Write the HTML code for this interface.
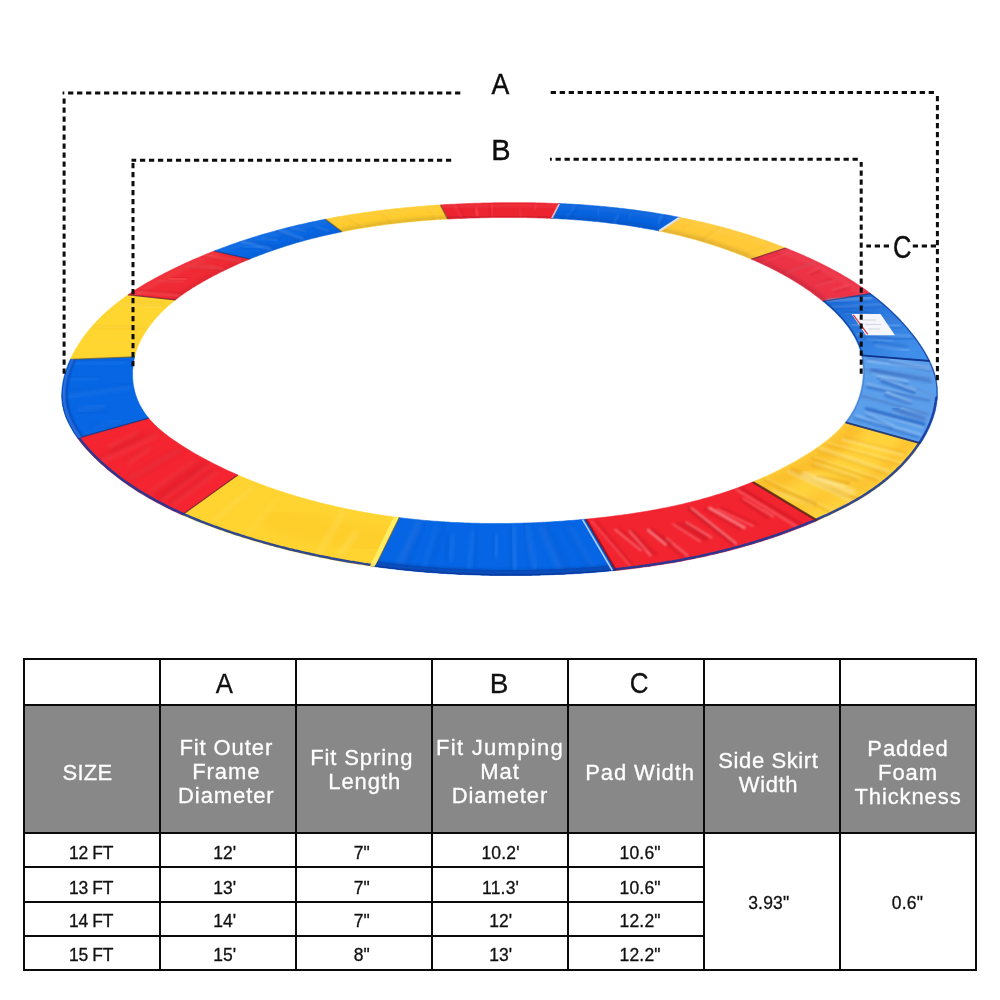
<!DOCTYPE html>
<html lang="en">
<head>
<meta charset="utf-8">
<title>Trampoline Pad Size Chart</title>
<style>
html,body{margin:0;padding:0;background:#fff;}
body{width:1000px;height:1000px;position:relative;overflow:hidden;font-family:"Liberation Sans",sans-serif;color:#111;}
.art{position:absolute;left:0;top:0;display:block;}
table.chart{position:absolute;left:23px;top:658px;width:954px;border-collapse:collapse;table-layout:fixed;}
table.chart td,table.chart th{border:2px solid #0a0a0a;padding:0;text-align:center;vertical-align:middle;font-weight:normal;white-space:nowrap;}
table.chart span{position:relative;display:inline-block;-webkit-text-stroke:0.3px currentColor;}
table.chart tr.lt th{height:44px;font-size:28px;line-height:30px;}
table.chart tr.hd th{height:126px;background:#888;color:#fff;font-size:22px;line-height:24px;letter-spacing:.9px;}
table.chart tr.r td{height:32px;font-size:17.5px;line-height:20px;}
table.chart tr.r1 td{height:33px;}
#h0{letter-spacing:.3px;}
#t1{transform:scaleX(.92);}
#t4{transform:scale(.93,1.04);transform-origin:center 24.7px;}
table.chart em{font-style:normal;position:relative;}
em.w{letter-spacing:1.3px;}
em.s{left:3px;}
#h5{letter-spacing:.6px;}
#d0_0,#d1_0,#d2_0,#d3_0{letter-spacing:-.35px;}
#d0_3,#d1_3,#d0_4,#d1_4,#d2_4,#d3_4,#d0_5,#d0_6{letter-spacing:.2px;}
</style>
</head>
<body>
<svg class="art" width="1000" height="640" viewBox="0 0 1000 640">
<defs>
<clipPath id="ringclip"><path clip-rule="evenodd" d="M480.0 203.2 L482.8 203.1 L485.6 203.0 L488.5 203.0 L491.3 202.9 L494.2 202.8 L497.0 202.8 L499.8 202.8 L502.7 202.7 L505.5 202.7 L508.3 202.7 L511.2 202.7 L514.0 202.7 L516.8 202.7 L519.7 202.7 L522.5 202.7 L525.4 202.7 L528.2 202.7 L531.0 202.8 L533.9 202.8 L536.7 202.9 L539.5 202.9 L542.4 203.0 L545.2 203.1 L548.0 203.2 L550.8 203.3 L553.7 203.4 L556.5 203.5 L559.3 203.6 L562.2 203.7 L565.0 203.8 L567.8 204.0 L570.6 204.1 L573.5 204.3 L576.3 204.5 L579.1 204.6 L581.9 204.8 L584.8 205.0 L587.6 205.2 L590.4 205.4 L593.2 205.7 L596.0 205.9 L598.8 206.1 L601.7 206.4 L604.5 206.6 L607.3 206.9 L610.1 207.2 L612.9 207.5 L615.7 207.8 L618.5 208.1 L621.3 208.4 L624.1 208.7 L626.9 209.1 L629.7 209.4 L632.5 209.8 L635.3 210.1 L638.1 210.5 L640.9 210.9 L643.7 211.3 L646.5 211.7 L649.3 212.1 L652.1 212.5 L654.9 213.0 L657.6 213.4 L660.4 213.9 L663.2 214.4 L666.0 214.8 L668.8 215.3 L671.5 215.8 L674.3 216.4 L677.1 216.9 L679.8 217.4 L682.6 218.0 L685.4 218.5 L688.1 219.1 L690.9 219.7 L693.6 220.3 L696.4 220.9 L699.1 221.5 L701.9 222.1 L704.6 222.8 L707.4 223.4 L710.1 224.1 L712.8 224.8 L715.6 225.5 L718.3 226.2 L721.0 226.9 L723.8 227.6 L726.5 228.4 L729.2 229.1 L731.9 229.9 L734.7 230.7 L737.4 231.5 L740.1 232.3 L742.8 233.1 L745.5 233.9 L748.2 234.8 L750.9 235.6 L753.6 236.5 L756.3 237.4 L759.0 238.3 L761.6 239.2 L764.3 240.1 L767.0 241.1 L769.7 242.0 L772.3 243.0 L775.0 244.0 L777.7 245.0 L780.3 246.0 L783.0 247.0 L785.7 248.0 L788.3 249.1 L790.9 250.2 L793.6 251.2 L796.2 252.3 L798.9 253.4 L801.5 254.6 L804.1 255.7 L806.7 256.9 L809.3 258.0 L811.9 259.2 L814.5 260.4 L817.1 261.7 L819.6 262.9 L822.2 264.2 L824.8 265.5 L827.3 266.8 L829.8 268.1 L832.3 269.4 L834.8 270.8 L837.3 272.1 L839.8 273.5 L842.3 274.9 L844.7 276.4 L847.2 277.8 L849.6 279.3 L852.0 280.8 L854.4 282.3 L856.8 283.9 L859.1 285.4 L861.4 287.0 L863.8 288.6 L866.1 290.2 L868.4 291.9 L870.6 293.6 L872.9 295.3 L875.1 297.0 L877.3 298.7 L879.5 300.5 L881.6 302.3 L883.8 304.1 L885.9 306.0 L888.0 307.8 L890.1 309.7 L892.1 311.7 L894.1 313.6 L896.1 315.6 L898.1 317.6 L900.1 319.6 L902.0 321.7 L903.9 323.7 L905.7 325.9 L907.6 328.0 L909.4 330.2 L911.2 332.4 L912.9 334.6 L914.7 336.8 L916.4 339.1 L918.0 341.4 L919.7 343.8 L921.3 346.2 L922.8 348.6 L924.3 351.0 L925.8 353.5 L927.2 355.9 L928.5 358.5 L929.8 361.0 L931.0 363.6 L932.1 366.2 L933.2 368.8 L934.1 371.4 L934.9 374.1 L935.7 376.8 L936.3 379.5 L936.8 382.2 L937.1 385.0 L937.4 387.8 L937.5 390.5 L937.6 393.3 L937.5 396.1 L937.3 398.8 L937.0 401.6 L936.6 404.3 L936.1 407.0 L935.6 409.7 L934.9 412.4 L934.1 415.1 L933.3 417.8 L932.3 420.4 L931.3 423.1 L930.2 425.7 L929.1 428.3 L927.8 430.8 L926.5 433.4 L925.1 435.9 L923.7 438.4 L922.2 440.9 L920.6 443.3 L919.0 445.7 L917.3 448.1 L915.6 450.4 L913.9 452.8 L912.1 455.0 L910.2 457.3 L908.3 459.5 L906.4 461.7 L904.5 463.8 L902.5 465.9 L900.5 467.9 L898.4 469.9 L896.4 471.9 L894.3 473.8 L892.2 475.7 L890.0 477.6 L887.9 479.4 L885.7 481.2 L883.5 483.0 L881.2 484.7 L879.0 486.4 L876.7 488.1 L874.4 489.7 L872.1 491.3 L869.7 492.9 L867.4 494.5 L865.0 496.0 L862.6 497.5 L860.2 499.0 L857.7 500.4 L855.3 501.8 L852.8 503.2 L850.4 504.6 L847.9 505.9 L845.4 507.2 L842.9 508.5 L840.4 509.8 L837.8 511.1 L835.3 512.3 L832.7 513.6 L830.2 514.8 L827.6 516.0 L825.0 517.1 L822.4 518.3 L819.9 519.4 L817.3 520.6 L814.7 521.7 L812.1 522.8 L809.4 523.8 L806.8 524.9 L804.2 526.0 L801.6 527.0 L799.0 528.1 L796.3 529.1 L793.7 530.1 L791.1 531.1 L788.4 532.1 L785.8 533.0 L783.1 534.0 L780.5 534.9 L777.8 535.9 L775.1 536.8 L772.5 537.7 L769.8 538.6 L767.1 539.4 L764.5 540.3 L761.8 541.2 L759.1 542.0 L756.4 542.8 L753.7 543.7 L751.0 544.5 L748.3 545.3 L745.6 546.0 L742.9 546.8 L740.2 547.6 L737.5 548.3 L734.8 549.0 L732.0 549.8 L729.3 550.5 L726.6 551.2 L723.9 551.9 L721.1 552.5 L718.4 553.2 L715.6 553.9 L712.9 554.5 L710.2 555.1 L707.4 555.8 L704.7 556.4 L701.9 557.0 L699.2 557.6 L696.4 558.1 L693.6 558.7 L690.9 559.3 L688.1 559.8 L685.3 560.3 L682.6 560.9 L679.8 561.4 L677.0 561.9 L674.2 562.4 L671.5 562.9 L668.7 563.3 L665.9 563.8 L663.1 564.2 L660.3 564.7 L657.5 565.1 L654.7 565.5 L651.9 565.9 L649.1 566.4 L646.3 566.7 L643.5 567.1 L640.7 567.5 L637.9 567.9 L635.1 568.2 L632.3 568.6 L629.5 568.9 L626.7 569.2 L623.9 569.6 L621.1 569.9 L618.2 570.2 L615.4 570.5 L612.6 570.7 L609.8 571.0 L607.0 571.3 L604.1 571.5 L601.3 571.8 L598.5 572.0 L595.7 572.3 L592.8 572.5 L590.0 572.7 L587.2 572.9 L584.3 573.1 L581.5 573.3 L578.7 573.5 L575.8 573.6 L573.0 573.8 L570.2 574.0 L567.3 574.1 L564.5 574.3 L561.7 574.4 L558.8 574.5 L556.0 574.6 L553.2 574.7 L550.3 574.8 L547.5 574.9 L544.6 575.0 L541.8 575.1 L539.0 575.2 L536.1 575.3 L533.3 575.3 L530.5 575.4 L527.6 575.4 L524.8 575.5 L521.9 575.5 L519.1 575.5 L516.3 575.5 L513.4 575.5 L510.6 575.5 L507.7 575.5 L504.9 575.5 L502.1 575.5 L499.2 575.5 L496.4 575.5 L493.5 575.4 L490.7 575.4 L487.9 575.3 L485.0 575.3 L482.2 575.2 L479.4 575.1 L476.5 575.0 L473.7 574.9 L470.9 574.8 L468.0 574.7 L465.2 574.6 L462.4 574.5 L459.5 574.4 L456.7 574.2 L453.9 574.1 L451.0 573.9 L448.2 573.8 L445.4 573.6 L442.5 573.4 L439.7 573.2 L436.9 573.0 L434.1 572.8 L431.2 572.6 L428.4 572.4 L425.6 572.2 L422.8 571.9 L420.0 571.7 L417.1 571.4 L414.3 571.2 L411.5 570.9 L408.7 570.6 L405.9 570.4 L403.1 570.1 L400.3 569.8 L397.4 569.5 L394.6 569.1 L391.8 568.8 L389.0 568.5 L386.2 568.1 L383.4 567.8 L380.6 567.4 L377.8 567.0 L375.0 566.7 L372.2 566.3 L369.4 565.9 L366.6 565.5 L363.8 565.1 L361.0 564.6 L358.3 564.2 L355.5 563.8 L352.7 563.3 L349.9 562.9 L347.1 562.4 L344.3 561.9 L341.6 561.4 L338.8 560.9 L336.0 560.4 L333.2 559.9 L330.5 559.4 L327.7 558.8 L324.9 558.3 L322.2 557.7 L319.4 557.2 L316.6 556.6 L313.9 556.0 L311.1 555.4 L308.4 554.8 L305.6 554.2 L302.9 553.6 L300.1 553.0 L297.4 552.3 L294.6 551.7 L291.9 551.0 L289.2 550.4 L286.4 549.7 L283.7 549.0 L281.0 548.3 L278.2 547.6 L275.5 546.9 L272.8 546.1 L270.1 545.4 L267.4 544.6 L264.6 543.9 L261.9 543.1 L259.2 542.3 L256.5 541.6 L253.8 540.8 L251.1 539.9 L248.4 539.1 L245.7 538.3 L243.0 537.4 L240.3 536.6 L237.7 535.7 L235.0 534.9 L232.3 534.0 L229.6 533.1 L226.9 532.2 L224.3 531.3 L221.6 530.3 L218.9 529.4 L216.3 528.4 L213.6 527.5 L211.0 526.5 L208.3 525.5 L205.7 524.5 L203.1 523.5 L200.4 522.5 L197.8 521.4 L195.2 520.4 L192.6 519.3 L190.0 518.2 L187.4 517.1 L184.8 516.0 L182.2 514.9 L179.6 513.7 L177.1 512.5 L174.5 511.4 L171.9 510.2 L169.4 508.9 L166.9 507.7 L164.4 506.4 L161.8 505.1 L159.3 503.8 L156.9 502.5 L154.4 501.2 L151.9 499.8 L149.4 498.4 L147.0 497.0 L144.6 495.6 L142.2 494.1 L139.7 492.7 L137.3 491.2 L135.0 489.7 L132.6 488.1 L130.2 486.5 L127.9 484.9 L125.6 483.3 L123.3 481.7 L121.0 480.0 L118.7 478.3 L116.4 476.6 L114.2 474.8 L111.9 473.0 L109.7 471.2 L107.5 469.4 L105.3 467.5 L103.2 465.6 L101.0 463.7 L98.9 461.8 L96.8 459.8 L94.7 457.8 L92.7 455.7 L90.6 453.6 L88.7 451.5 L86.7 449.4 L84.8 447.2 L82.9 445.0 L81.1 442.8 L79.4 440.5 L77.7 438.2 L76.0 435.8 L74.4 433.5 L72.9 431.1 L71.5 428.6 L70.1 426.1 L68.8 423.6 L67.6 421.1 L66.4 418.5 L65.4 415.9 L64.5 413.2 L63.7 410.6 L63.1 407.9 L62.5 405.2 L62.1 402.5 L61.9 399.8 L61.7 397.0 L61.7 394.3 L61.8 391.6 L62.0 388.8 L62.3 386.1 L62.7 383.4 L63.2 380.6 L63.8 377.9 L64.5 375.2 L65.3 372.5 L66.2 369.8 L67.1 367.2 L68.1 364.5 L69.2 361.9 L70.4 359.3 L71.6 356.7 L72.9 354.1 L74.3 351.6 L75.7 349.1 L77.2 346.7 L78.7 344.3 L80.2 341.9 L81.8 339.5 L83.4 337.2 L85.1 335.0 L86.8 332.7 L88.6 330.5 L90.3 328.4 L92.2 326.3 L94.0 324.2 L95.9 322.1 L97.9 320.1 L99.8 318.1 L101.8 316.1 L103.9 314.2 L105.9 312.3 L108.0 310.4 L110.2 308.6 L112.3 306.7 L114.5 305.0 L116.7 303.2 L118.9 301.5 L121.2 299.8 L123.5 298.1 L125.8 296.4 L128.1 294.8 L130.4 293.2 L132.8 291.6 L135.2 290.1 L137.6 288.5 L140.0 287.0 L142.5 285.6 L144.9 284.1 L147.4 282.6 L149.9 281.2 L152.4 279.8 L154.9 278.4 L157.4 277.1 L159.9 275.7 L162.5 274.4 L165.0 273.1 L167.6 271.8 L170.2 270.5 L172.7 269.2 L175.3 268.0 L177.9 266.8 L180.5 265.5 L183.1 264.3 L185.6 263.1 L188.2 262.0 L190.8 260.8 L193.4 259.6 L196.1 258.5 L198.7 257.4 L201.3 256.3 L203.9 255.2 L206.5 254.1 L209.2 253.1 L211.8 252.0 L214.4 251.0 L217.1 249.9 L219.7 248.9 L222.4 247.9 L225.0 247.0 L227.7 246.0 L230.3 245.0 L233.0 244.1 L235.7 243.2 L238.3 242.2 L241.0 241.3 L243.7 240.4 L246.4 239.6 L249.1 238.7 L251.8 237.8 L254.4 237.0 L257.1 236.2 L259.8 235.3 L262.5 234.5 L265.2 233.7 L268.0 233.0 L270.7 232.2 L273.4 231.4 L276.1 230.7 L278.8 230.0 L281.5 229.2 L284.3 228.5 L287.0 227.8 L289.7 227.1 L292.4 226.5 L295.2 225.8 L297.9 225.1 L300.7 224.5 L303.4 223.9 L306.2 223.3 L308.9 222.6 L311.7 222.0 L314.4 221.5 L317.2 220.9 L319.9 220.3 L322.7 219.8 L325.5 219.2 L328.2 218.7 L331.0 218.2 L333.8 217.6 L336.5 217.1 L339.3 216.6 L342.1 216.2 L344.9 215.7 L347.6 215.2 L350.4 214.8 L353.2 214.3 L356.0 213.9 L358.8 213.5 L361.6 213.1 L364.4 212.6 L367.2 212.2 L370.0 211.9 L372.8 211.5 L375.6 211.1 L378.4 210.8 L381.2 210.4 L384.0 210.1 L386.8 209.7 L389.6 209.4 L392.4 209.1 L395.2 208.8 L398.0 208.5 L400.8 208.2 L403.6 207.9 L406.5 207.6 L409.3 207.4 L412.1 207.1 L414.9 206.9 L417.7 206.6 L420.6 206.4 L423.4 206.2 L426.2 205.9 L429.0 205.7 L431.8 205.5 L434.7 205.3 L437.5 205.1 L440.3 205.0 L443.2 204.8 L446.0 204.6 L448.8 204.5 L451.6 204.3 L454.5 204.2 L457.3 204.0 L460.1 203.9 L463.0 203.8 L465.8 203.7 L468.6 203.5 L471.5 203.4 L474.3 203.3 L477.1 203.3Z M492.6 217.6 L495.0 217.6 L497.3 217.5 L499.7 217.5 L502.1 217.5 L504.4 217.5 L506.8 217.5 L509.2 217.5 L511.6 217.5 L513.9 217.5 L516.3 217.5 L518.7 217.5 L521.1 217.6 L523.4 217.6 L525.8 217.6 L528.2 217.7 L530.5 217.7 L532.9 217.8 L535.3 217.8 L537.6 217.9 L540.0 218.0 L542.4 218.0 L544.7 218.1 L547.1 218.2 L549.5 218.3 L551.8 218.4 L554.2 218.5 L556.5 218.6 L558.9 218.7 L561.3 218.9 L563.6 219.0 L566.0 219.1 L568.3 219.3 L570.7 219.4 L573.0 219.6 L575.4 219.8 L577.7 219.9 L580.1 220.1 L582.4 220.3 L584.8 220.5 L587.1 220.7 L589.5 220.9 L591.8 221.1 L594.2 221.4 L596.5 221.6 L598.9 221.8 L601.2 222.1 L603.5 222.3 L605.9 222.6 L608.2 222.9 L610.5 223.2 L612.9 223.4 L615.2 223.7 L617.5 224.0 L619.9 224.4 L622.2 224.7 L624.5 225.0 L626.8 225.3 L629.2 225.7 L631.5 226.0 L633.8 226.4 L636.1 226.8 L638.4 227.2 L640.7 227.6 L643.0 228.0 L645.4 228.4 L647.7 228.8 L650.0 229.2 L652.3 229.6 L654.6 230.1 L656.9 230.5 L659.2 231.0 L661.5 231.5 L663.8 232.0 L666.0 232.5 L668.3 233.0 L670.6 233.5 L672.9 234.0 L675.2 234.5 L677.5 235.1 L679.7 235.6 L682.0 236.2 L684.3 236.8 L686.6 237.4 L688.8 238.0 L691.1 238.6 L693.4 239.2 L695.6 239.8 L697.9 240.4 L700.1 241.1 L702.4 241.8 L704.6 242.4 L706.9 243.1 L709.1 243.8 L711.4 244.5 L713.6 245.2 L715.9 246.0 L718.1 246.7 L720.3 247.4 L722.6 248.2 L724.8 249.0 L727.0 249.8 L729.2 250.6 L731.4 251.4 L733.7 252.2 L735.9 253.0 L738.1 253.9 L740.3 254.7 L742.5 255.6 L744.7 256.5 L746.9 257.4 L749.1 258.3 L751.3 259.2 L753.5 260.1 L755.6 261.1 L757.8 262.0 L760.0 263.0 L762.1 264.0 L764.3 265.0 L766.5 266.0 L768.6 267.1 L770.7 268.1 L772.9 269.2 L775.0 270.2 L777.1 271.3 L779.2 272.5 L781.3 273.6 L783.4 274.7 L785.5 275.9 L787.5 277.1 L789.6 278.2 L791.7 279.5 L793.7 280.7 L795.7 281.9 L797.8 283.2 L799.8 284.5 L801.8 285.8 L803.8 287.1 L805.7 288.4 L807.7 289.8 L809.7 291.1 L811.6 292.5 L813.5 293.9 L815.4 295.4 L817.3 296.8 L819.2 298.3 L821.1 299.8 L822.9 301.3 L824.8 302.8 L826.6 304.4 L828.4 305.9 L830.2 307.5 L832.0 309.2 L833.7 310.8 L835.4 312.5 L837.1 314.1 L838.7 315.9 L840.3 317.6 L841.9 319.3 L843.4 321.1 L844.9 322.9 L846.4 324.7 L847.8 326.6 L849.2 328.5 L850.5 330.4 L851.7 332.3 L852.9 334.3 L854.1 336.3 L855.2 338.3 L856.2 340.3 L857.2 342.4 L858.1 344.5 L858.9 346.6 L859.7 348.7 L860.4 350.9 L861.0 353.1 L861.6 355.4 L862.0 357.6 L862.4 359.9 L862.7 362.3 L863.0 364.6 L863.1 367.0 L863.2 369.3 L863.3 371.7 L863.2 374.1 L863.1 376.5 L862.9 378.9 L862.6 381.3 L862.3 383.7 L861.9 386.1 L861.4 388.4 L860.9 390.8 L860.3 393.1 L859.6 395.4 L858.9 397.7 L858.1 400.0 L857.2 402.2 L856.3 404.4 L855.3 406.6 L854.3 408.7 L853.1 410.8 L852.0 412.8 L850.8 414.8 L849.5 416.7 L848.2 418.6 L846.8 420.5 L845.4 422.4 L843.9 424.2 L842.4 425.9 L840.8 427.7 L839.2 429.4 L837.6 431.0 L835.9 432.7 L834.2 434.3 L832.4 435.8 L830.7 437.4 L828.8 438.9 L827.0 440.4 L825.1 441.9 L823.2 443.3 L821.3 444.7 L819.4 446.1 L817.4 447.5 L815.5 448.8 L813.5 450.2 L811.5 451.5 L809.5 452.8 L807.5 454.1 L805.4 455.3 L803.4 456.6 L801.3 457.8 L799.3 459.0 L797.2 460.2 L795.2 461.4 L793.1 462.5 L791.0 463.7 L789.0 464.8 L786.9 465.9 L784.8 467.0 L782.7 468.1 L780.6 469.2 L778.5 470.3 L776.4 471.3 L774.2 472.4 L772.1 473.4 L770.0 474.4 L767.9 475.4 L765.7 476.4 L763.6 477.3 L761.4 478.3 L759.3 479.2 L757.1 480.1 L754.9 481.1 L752.8 482.0 L750.6 482.8 L748.4 483.7 L746.2 484.6 L744.0 485.4 L741.8 486.3 L739.6 487.1 L737.4 487.9 L735.2 488.7 L733.0 489.5 L730.8 490.2 L728.6 491.0 L726.4 491.8 L724.1 492.5 L721.9 493.2 L719.7 493.9 L717.4 494.6 L715.2 495.3 L712.9 496.0 L710.7 496.7 L708.4 497.3 L706.2 498.0 L703.9 498.6 L701.7 499.2 L699.4 499.9 L697.1 500.5 L694.8 501.1 L692.6 501.6 L690.3 502.2 L688.0 502.8 L685.7 503.3 L683.4 503.9 L681.1 504.4 L678.8 504.9 L676.5 505.4 L674.2 506.0 L671.9 506.4 L669.6 506.9 L667.3 507.4 L665.0 507.9 L662.7 508.3 L660.4 508.8 L658.0 509.2 L655.7 509.7 L653.4 510.1 L651.1 510.5 L648.7 510.9 L646.4 511.3 L644.1 511.7 L641.7 512.1 L639.4 512.5 L637.1 512.8 L634.7 513.2 L632.4 513.6 L630.0 513.9 L627.7 514.2 L625.4 514.6 L623.0 514.9 L620.7 515.2 L618.3 515.5 L616.0 515.8 L613.6 516.1 L611.3 516.4 L608.9 516.7 L606.5 517.0 L604.2 517.3 L601.8 517.5 L599.5 517.8 L597.1 518.0 L594.8 518.3 L592.4 518.5 L590.0 518.8 L587.7 519.0 L585.3 519.2 L583.0 519.4 L580.6 519.6 L578.2 519.9 L575.9 520.1 L573.5 520.3 L571.1 520.5 L568.8 520.6 L566.4 520.8 L564.1 521.0 L561.7 521.2 L559.3 521.3 L557.0 521.5 L554.6 521.6 L552.2 521.8 L549.9 521.9 L547.5 522.1 L545.1 522.2 L542.8 522.3 L540.4 522.4 L538.0 522.6 L535.7 522.7 L533.3 522.8 L530.9 522.9 L528.6 522.9 L526.2 523.0 L523.8 523.1 L521.5 523.2 L519.1 523.2 L516.7 523.3 L514.4 523.3 L512.0 523.4 L509.6 523.4 L507.3 523.5 L504.9 523.5 L502.6 523.5 L500.2 523.5 L497.8 523.5 L495.5 523.5 L493.1 523.5 L490.7 523.5 L488.4 523.5 L486.0 523.5 L483.7 523.4 L481.3 523.4 L478.9 523.3 L476.6 523.3 L474.2 523.2 L471.9 523.2 L469.5 523.1 L467.1 523.0 L464.8 522.9 L462.4 522.8 L460.1 522.7 L457.7 522.6 L455.4 522.5 L453.0 522.4 L450.7 522.3 L448.3 522.1 L445.9 522.0 L443.6 521.8 L441.2 521.7 L438.9 521.5 L436.5 521.3 L434.2 521.2 L431.8 521.0 L429.5 520.8 L427.2 520.6 L424.8 520.4 L422.5 520.2 L420.1 519.9 L417.8 519.7 L415.4 519.5 L413.1 519.2 L410.8 519.0 L408.4 518.7 L406.1 518.4 L403.8 518.2 L401.4 517.9 L399.1 517.6 L396.7 517.3 L394.4 517.0 L392.1 516.7 L389.8 516.3 L387.4 516.0 L385.1 515.7 L382.8 515.3 L380.5 515.0 L378.1 514.6 L375.8 514.2 L373.5 513.9 L371.2 513.5 L368.9 513.1 L366.5 512.7 L364.2 512.3 L361.9 511.9 L359.6 511.4 L357.3 511.0 L355.0 510.5 L352.7 510.1 L350.4 509.6 L348.1 509.2 L345.7 508.7 L343.4 508.2 L341.1 507.7 L338.8 507.2 L336.6 506.7 L334.3 506.2 L332.0 505.6 L329.7 505.1 L327.4 504.6 L325.1 504.0 L322.8 503.4 L320.5 502.9 L318.2 502.3 L316.0 501.7 L313.7 501.1 L311.4 500.5 L309.1 499.9 L306.8 499.2 L304.6 498.6 L302.3 498.0 L300.0 497.3 L297.8 496.7 L295.5 496.0 L293.2 495.3 L291.0 494.6 L288.7 493.9 L286.5 493.2 L284.2 492.5 L282.0 491.7 L279.7 491.0 L277.5 490.3 L275.3 489.5 L273.0 488.7 L270.8 488.0 L268.6 487.2 L266.3 486.4 L264.1 485.6 L261.9 484.7 L259.7 483.9 L257.5 483.1 L255.3 482.2 L253.1 481.4 L250.9 480.5 L248.7 479.6 L246.5 478.7 L244.3 477.8 L242.1 476.9 L240.0 476.0 L237.8 475.0 L235.6 474.1 L233.5 473.1 L231.3 472.1 L229.2 471.2 L227.0 470.2 L224.9 469.2 L222.7 468.1 L220.6 467.1 L218.5 466.1 L216.4 465.0 L214.3 464.0 L212.2 462.9 L210.1 461.8 L208.0 460.7 L205.9 459.6 L203.8 458.5 L201.7 457.3 L199.6 456.2 L197.6 455.0 L195.5 453.9 L193.5 452.7 L191.4 451.5 L189.4 450.3 L187.4 449.0 L185.3 447.8 L183.3 446.5 L181.3 445.2 L179.3 443.9 L177.4 442.6 L175.4 441.3 L173.4 439.9 L171.5 438.6 L169.5 437.2 L167.6 435.8 L165.7 434.3 L163.8 432.8 L162.0 431.3 L160.2 429.8 L158.4 428.2 L156.6 426.6 L154.9 425.0 L153.3 423.3 L151.6 421.6 L150.1 419.9 L148.6 418.1 L147.1 416.2 L145.7 414.4 L144.4 412.4 L143.1 410.5 L141.9 408.5 L140.7 406.5 L139.6 404.4 L138.6 402.3 L137.7 400.2 L136.8 398.0 L136.0 395.8 L135.3 393.6 L134.7 391.4 L134.2 389.1 L133.7 386.9 L133.3 384.6 L133.0 382.3 L132.8 380.0 L132.6 377.7 L132.6 375.3 L132.6 373.0 L132.6 370.7 L132.8 368.3 L133.0 366.0 L133.3 363.7 L133.7 361.4 L134.2 359.1 L134.7 356.8 L135.3 354.5 L135.9 352.2 L136.6 350.0 L137.4 347.8 L138.3 345.6 L139.2 343.4 L140.2 341.3 L141.3 339.1 L142.4 337.1 L143.6 335.0 L144.8 333.0 L146.1 331.0 L147.4 329.0 L148.8 327.1 L150.2 325.2 L151.7 323.3 L153.1 321.4 L154.7 319.6 L156.2 317.8 L157.8 316.1 L159.5 314.3 L161.1 312.6 L162.8 310.9 L164.5 309.3 L166.3 307.6 L168.1 306.0 L169.9 304.5 L171.7 302.9 L173.5 301.4 L175.4 299.9 L177.3 298.5 L179.2 297.0 L181.1 295.6 L183.0 294.2 L185.0 292.8 L187.0 291.5 L188.9 290.2 L190.9 288.9 L192.9 287.6 L195.0 286.4 L197.0 285.1 L199.1 283.9 L201.1 282.7 L203.2 281.5 L205.2 280.4 L207.3 279.2 L209.4 278.1 L211.5 277.0 L213.6 275.8 L215.7 274.8 L217.8 273.7 L219.9 272.6 L222.0 271.6 L224.2 270.5 L226.3 269.5 L228.4 268.5 L230.5 267.5 L232.7 266.5 L234.8 265.5 L237.0 264.5 L239.1 263.6 L241.3 262.6 L243.4 261.7 L245.6 260.8 L247.8 259.9 L250.0 259.0 L252.1 258.1 L254.3 257.2 L256.5 256.4 L258.7 255.5 L260.9 254.7 L263.1 253.9 L265.3 253.1 L267.5 252.3 L269.7 251.5 L271.9 250.7 L274.1 249.9 L276.3 249.2 L278.5 248.4 L280.8 247.7 L283.0 247.0 L285.2 246.2 L287.5 245.5 L289.7 244.9 L291.9 244.2 L294.2 243.5 L296.4 242.8 L298.7 242.2 L300.9 241.6 L303.2 240.9 L305.4 240.3 L307.7 239.7 L310.0 239.1 L312.2 238.5 L314.5 237.9 L316.8 237.4 L319.1 236.8 L321.3 236.3 L323.6 235.7 L325.9 235.2 L328.2 234.7 L330.5 234.2 L332.8 233.7 L335.1 233.2 L337.4 232.7 L339.7 232.2 L342.0 231.7 L344.3 231.3 L346.6 230.8 L348.9 230.4 L351.2 230.0 L353.5 229.6 L355.9 229.1 L358.2 228.7 L360.5 228.3 L362.8 228.0 L365.1 227.6 L367.5 227.2 L369.8 226.9 L372.1 226.5 L374.5 226.2 L376.8 225.8 L379.1 225.5 L381.5 225.2 L383.8 224.8 L386.2 224.5 L388.5 224.2 L390.8 224.0 L393.2 223.7 L395.5 223.4 L397.9 223.1 L400.2 222.9 L402.6 222.6 L404.9 222.4 L407.3 222.1 L409.6 221.9 L412.0 221.7 L414.4 221.4 L416.7 221.2 L419.1 221.0 L421.4 220.8 L423.8 220.6 L426.2 220.4 L428.5 220.3 L430.9 220.1 L433.3 219.9 L435.6 219.8 L438.0 219.6 L440.4 219.5 L442.7 219.3 L445.1 219.2 L447.5 219.0 L449.8 218.9 L452.2 218.8 L454.6 218.7 L457.0 218.6 L459.3 218.5 L461.7 218.4 L464.1 218.3 L466.5 218.2 L468.8 218.1 L471.2 218.0 L473.6 218.0 L476.0 217.9 L478.3 217.9 L480.7 217.8 L483.1 217.7 L485.5 217.7 L487.8 217.7 L490.2 217.6Z"/></clipPath>
<clipPath id="sc0"><polygon points="440.3,205.0 443.2,204.8 446.0,204.6 448.8,204.5 451.6,204.3 454.5,204.2 457.3,204.0 460.1,203.9 463.0,203.8 465.8,203.7 468.6,203.5 471.5,203.4 474.3,203.3 477.1,203.3 480.0,203.2 482.8,203.1 485.6,203.0 488.5,203.0 491.3,202.9 494.2,202.8 497.0,202.8 499.8,202.8 502.7,202.7 505.5,202.7 508.3,202.7 511.2,202.7 514.0,202.7 516.8,202.7 519.7,202.7 522.5,202.7 525.4,202.7 528.2,202.7 531.0,202.8 533.9,202.8 536.7,202.9 539.5,202.9 542.4,203.0 545.2,203.1 548.0,203.2 550.8,203.3 553.7,203.4 556.5,203.5 559.3,203.6 551.8,218.4 549.5,218.3 547.1,218.2 544.7,218.1 542.4,218.0 540.0,218.0 537.6,217.9 535.3,217.8 532.9,217.8 530.5,217.7 528.2,217.7 525.8,217.6 523.4,217.6 521.1,217.6 518.7,217.5 516.3,217.5 513.9,217.5 511.6,217.5 509.2,217.5 506.8,217.5 504.4,217.5 502.1,217.5 499.7,217.5 497.3,217.5 495.0,217.6 492.6,217.6 490.2,217.6 487.8,217.7 485.5,217.7 483.1,217.7 480.7,217.8 478.3,217.9 476.0,217.9 473.6,218.0 471.2,218.0 468.8,218.1 466.5,218.2 464.1,218.3 461.7,218.4 459.3,218.5 457.0,218.6 454.6,218.7 452.2,218.8 449.8,218.9 447.5,219.0"/></clipPath>
<clipPath id="sc1"><polygon points="559.3,203.6 562.2,203.7 565.0,203.8 567.8,204.0 570.6,204.1 573.5,204.3 576.3,204.5 579.1,204.6 581.9,204.8 584.8,205.0 587.6,205.2 590.4,205.4 593.2,205.7 596.0,205.9 598.8,206.1 601.7,206.4 604.5,206.6 607.3,206.9 610.1,207.2 612.9,207.5 615.7,207.8 618.5,208.1 621.3,208.4 624.1,208.7 626.9,209.1 629.7,209.4 632.5,209.8 635.3,210.1 638.1,210.5 640.9,210.9 643.7,211.3 646.5,211.7 649.3,212.1 652.1,212.5 654.9,213.0 657.6,213.4 660.4,213.9 663.2,214.4 666.0,214.8 668.8,215.3 671.5,215.8 674.3,216.4 677.1,216.9 679.8,217.4 659.2,231.0 656.9,230.5 654.6,230.1 652.3,229.6 650.0,229.2 647.7,228.8 645.4,228.4 643.0,228.0 640.7,227.6 638.4,227.2 636.1,226.8 633.8,226.4 631.5,226.0 629.2,225.7 626.8,225.3 624.5,225.0 622.2,224.7 619.9,224.4 617.5,224.0 615.2,223.7 612.9,223.4 610.5,223.2 608.2,222.9 605.9,222.6 603.5,222.3 601.2,222.1 598.9,221.8 596.5,221.6 594.2,221.4 591.8,221.1 589.5,220.9 587.1,220.7 584.8,220.5 582.4,220.3 580.1,220.1 577.7,219.9 575.4,219.8 573.0,219.6 570.7,219.4 568.3,219.3 566.0,219.1 563.6,219.0 561.3,218.9 558.9,218.7 556.5,218.6 554.2,218.5 551.8,218.4"/></clipPath>
<clipPath id="sc2"><polygon points="679.8,217.4 682.6,218.0 685.4,218.5 688.1,219.1 690.9,219.7 693.6,220.3 696.4,220.9 699.1,221.5 701.9,222.1 704.6,222.8 707.4,223.4 710.1,224.1 712.8,224.8 715.6,225.5 718.3,226.2 721.0,226.9 723.8,227.6 726.5,228.4 729.2,229.1 731.9,229.9 734.7,230.7 737.4,231.5 740.1,232.3 742.8,233.1 745.5,233.9 748.2,234.8 750.9,235.6 753.6,236.5 756.3,237.4 759.0,238.3 761.6,239.2 764.3,240.1 767.0,241.1 769.7,242.0 772.3,243.0 775.0,244.0 777.7,245.0 780.3,246.0 783.0,247.0 785.7,248.0 751.3,259.2 749.1,258.3 746.9,257.4 744.7,256.5 742.5,255.6 740.3,254.7 738.1,253.9 735.9,253.0 733.7,252.2 731.4,251.4 729.2,250.6 727.0,249.8 724.8,249.0 722.6,248.2 720.3,247.4 718.1,246.7 715.9,246.0 713.6,245.2 711.4,244.5 709.1,243.8 706.9,243.1 704.6,242.4 702.4,241.8 700.1,241.1 697.9,240.4 695.6,239.8 693.4,239.2 691.1,238.6 688.8,238.0 686.6,237.4 684.3,236.8 682.0,236.2 679.7,235.6 677.5,235.1 675.2,234.5 672.9,234.0 670.6,233.5 668.3,233.0 666.0,232.5 663.8,232.0 661.5,231.5 659.2,231.0"/></clipPath>
<clipPath id="sc3"><polygon points="785.7,248.0 788.3,249.1 790.9,250.2 793.6,251.2 796.2,252.3 798.9,253.4 801.5,254.6 804.1,255.7 806.7,256.9 809.3,258.0 811.9,259.2 814.5,260.4 817.1,261.7 819.6,262.9 822.2,264.2 824.8,265.5 827.3,266.8 829.8,268.1 832.3,269.4 834.8,270.8 837.3,272.1 839.8,273.5 842.3,274.9 844.7,276.4 847.2,277.8 849.6,279.3 852.0,280.8 854.4,282.3 856.8,283.9 859.1,285.4 861.4,287.0 863.8,288.6 866.1,290.2 868.4,291.9 870.6,293.6 822.9,301.3 821.1,299.8 819.2,298.3 817.3,296.8 815.4,295.4 813.5,293.9 811.6,292.5 809.7,291.1 807.7,289.8 805.7,288.4 803.8,287.1 801.8,285.8 799.8,284.5 797.8,283.2 795.7,281.9 793.7,280.7 791.7,279.5 789.6,278.2 787.5,277.1 785.5,275.9 783.4,274.7 781.3,273.6 779.2,272.5 777.1,271.3 775.0,270.2 772.9,269.2 770.7,268.1 768.6,267.1 766.5,266.0 764.3,265.0 762.1,264.0 760.0,263.0 757.8,262.0 755.6,261.1 753.5,260.1 751.3,259.2"/></clipPath>
<clipPath id="sc4"><polygon points="870.6,293.6 872.9,295.3 875.1,297.0 877.3,298.7 879.5,300.5 881.6,302.3 883.8,304.1 885.9,306.0 888.0,307.8 890.1,309.7 892.1,311.7 894.1,313.6 896.1,315.6 898.1,317.6 900.1,319.6 902.0,321.7 903.9,323.7 905.7,325.9 907.6,328.0 909.4,330.2 911.2,332.4 912.9,334.6 914.7,336.8 916.4,339.1 918.0,341.4 919.7,343.8 921.3,346.2 922.8,348.6 924.3,351.0 925.8,353.5 927.2,355.9 928.5,358.5 929.8,361.0 861.6,355.4 861.0,353.1 860.4,350.9 859.7,348.7 858.9,346.6 858.1,344.5 857.2,342.4 856.2,340.3 855.2,338.3 854.1,336.3 852.9,334.3 851.7,332.3 850.5,330.4 849.2,328.5 847.8,326.6 846.4,324.7 844.9,322.9 843.4,321.1 841.9,319.3 840.3,317.6 838.7,315.9 837.1,314.1 835.4,312.5 833.7,310.8 832.0,309.2 830.2,307.5 828.4,305.9 826.6,304.4 824.8,302.8 822.9,301.3"/></clipPath>
<clipPath id="sc5"><polygon points="929.8,361.0 931.0,363.6 932.1,366.2 933.2,368.8 934.1,371.4 934.9,374.1 935.7,376.8 936.3,379.5 936.8,382.2 937.1,385.0 937.4,387.8 937.5,390.5 937.6,393.3 937.5,396.1 937.3,398.8 937.0,401.6 936.6,404.3 936.1,407.0 935.6,409.7 934.9,412.4 934.1,415.1 933.3,417.8 932.3,420.4 931.3,423.1 930.2,425.7 929.1,428.3 927.8,430.8 926.5,433.4 925.1,435.9 923.7,438.4 922.2,440.9 920.6,443.3 845.4,422.4 846.8,420.5 848.2,418.6 849.5,416.7 850.8,414.8 852.0,412.8 853.1,410.8 854.3,408.7 855.3,406.6 856.3,404.4 857.2,402.2 858.1,400.0 858.9,397.7 859.6,395.4 860.3,393.1 860.9,390.8 861.4,388.4 861.9,386.1 862.3,383.7 862.6,381.3 862.9,378.9 863.1,376.5 863.2,374.1 863.3,371.7 863.2,369.3 863.1,367.0 863.0,364.6 862.7,362.3 862.4,359.9 862.0,357.6 861.6,355.4"/></clipPath>
<clipPath id="sc6"><polygon points="920.6,443.3 919.0,445.7 917.3,448.1 915.6,450.4 913.9,452.8 912.1,455.0 910.2,457.3 908.3,459.5 906.4,461.7 904.5,463.8 902.5,465.9 900.5,467.9 898.4,469.9 896.4,471.9 894.3,473.8 892.2,475.7 890.0,477.6 887.9,479.4 885.7,481.2 883.5,483.0 881.2,484.7 879.0,486.4 876.7,488.1 874.4,489.7 872.1,491.3 869.7,492.9 867.4,494.5 865.0,496.0 862.6,497.5 860.2,499.0 857.7,500.4 855.3,501.8 852.8,503.2 850.4,504.6 847.9,505.9 845.4,507.2 842.9,508.5 840.4,509.8 837.8,511.1 835.3,512.3 832.7,513.6 830.2,514.8 827.6,516.0 825.0,517.1 822.4,518.3 819.9,519.4 817.3,520.6 752.8,482.0 754.9,481.1 757.1,480.1 759.3,479.2 761.4,478.3 763.6,477.3 765.7,476.4 767.9,475.4 770.0,474.4 772.1,473.4 774.2,472.4 776.4,471.3 778.5,470.3 780.6,469.2 782.7,468.1 784.8,467.0 786.9,465.9 789.0,464.8 791.0,463.7 793.1,462.5 795.2,461.4 797.2,460.2 799.3,459.0 801.3,457.8 803.4,456.6 805.4,455.3 807.5,454.1 809.5,452.8 811.5,451.5 813.5,450.2 815.5,448.8 817.4,447.5 819.4,446.1 821.3,444.7 823.2,443.3 825.1,441.9 827.0,440.4 828.8,438.9 830.7,437.4 832.4,435.8 834.2,434.3 835.9,432.7 837.6,431.0 839.2,429.4 840.8,427.7 842.4,425.9 843.9,424.2 845.4,422.4"/></clipPath>
<clipPath id="sc7"><polygon points="817.3,520.6 814.7,521.7 812.1,522.8 809.4,523.8 806.8,524.9 804.2,526.0 801.6,527.0 799.0,528.1 796.3,529.1 793.7,530.1 791.1,531.1 788.4,532.1 785.8,533.0 783.1,534.0 780.5,534.9 777.8,535.9 775.1,536.8 772.5,537.7 769.8,538.6 767.1,539.4 764.5,540.3 761.8,541.2 759.1,542.0 756.4,542.8 753.7,543.7 751.0,544.5 748.3,545.3 745.6,546.0 742.9,546.8 740.2,547.6 737.5,548.3 734.8,549.0 732.0,549.8 729.3,550.5 726.6,551.2 723.9,551.9 721.1,552.5 718.4,553.2 715.6,553.9 712.9,554.5 710.2,555.1 707.4,555.8 704.7,556.4 701.9,557.0 699.2,557.6 696.4,558.1 693.6,558.7 690.9,559.3 688.1,559.8 685.3,560.3 682.6,560.9 679.8,561.4 677.0,561.9 674.2,562.4 671.5,562.9 668.7,563.3 665.9,563.8 663.1,564.2 660.3,564.7 657.5,565.1 654.7,565.5 651.9,565.9 649.1,566.4 646.3,566.7 643.5,567.1 640.7,567.5 637.9,567.9 635.1,568.2 632.3,568.6 629.5,568.9 626.7,569.2 623.9,569.6 621.1,569.9 618.2,570.2 615.4,570.5 585.3,519.2 587.7,519.0 590.0,518.8 592.4,518.5 594.8,518.3 597.1,518.0 599.5,517.8 601.8,517.5 604.2,517.3 606.5,517.0 608.9,516.7 611.3,516.4 613.6,516.1 616.0,515.8 618.3,515.5 620.7,515.2 623.0,514.9 625.4,514.6 627.7,514.2 630.0,513.9 632.4,513.6 634.7,513.2 637.1,512.8 639.4,512.5 641.7,512.1 644.1,511.7 646.4,511.3 648.7,510.9 651.1,510.5 653.4,510.1 655.7,509.7 658.0,509.2 660.4,508.8 662.7,508.3 665.0,507.9 667.3,507.4 669.6,506.9 671.9,506.4 674.2,506.0 676.5,505.4 678.8,504.9 681.1,504.4 683.4,503.9 685.7,503.3 688.0,502.8 690.3,502.2 692.6,501.6 694.8,501.1 697.1,500.5 699.4,499.9 701.7,499.2 703.9,498.6 706.2,498.0 708.4,497.3 710.7,496.7 712.9,496.0 715.2,495.3 717.4,494.6 719.7,493.9 721.9,493.2 724.1,492.5 726.4,491.8 728.6,491.0 730.8,490.2 733.0,489.5 735.2,488.7 737.4,487.9 739.6,487.1 741.8,486.3 744.0,485.4 746.2,484.6 748.4,483.7 750.6,482.8 752.8,482.0"/></clipPath>
<clipPath id="sc8"><polygon points="615.4,570.5 612.6,570.7 609.8,571.0 607.0,571.3 604.1,571.5 601.3,571.8 598.5,572.0 595.7,572.3 592.8,572.5 590.0,572.7 587.2,572.9 584.3,573.1 581.5,573.3 578.7,573.5 575.8,573.6 573.0,573.8 570.2,574.0 567.3,574.1 564.5,574.3 561.7,574.4 558.8,574.5 556.0,574.6 553.2,574.7 550.3,574.8 547.5,574.9 544.6,575.0 541.8,575.1 539.0,575.2 536.1,575.3 533.3,575.3 530.5,575.4 527.6,575.4 524.8,575.5 521.9,575.5 519.1,575.5 516.3,575.5 513.4,575.5 510.6,575.5 507.7,575.5 504.9,575.5 502.1,575.5 499.2,575.5 496.4,575.5 493.5,575.4 490.7,575.4 487.9,575.3 485.0,575.3 482.2,575.2 479.4,575.1 476.5,575.0 473.7,574.9 470.9,574.8 468.0,574.7 465.2,574.6 462.4,574.5 459.5,574.4 456.7,574.2 453.9,574.1 451.0,573.9 448.2,573.8 445.4,573.6 442.5,573.4 439.7,573.2 436.9,573.0 434.1,572.8 431.2,572.6 428.4,572.4 425.6,572.2 422.8,571.9 420.0,571.7 417.1,571.4 414.3,571.2 411.5,570.9 408.7,570.6 405.9,570.4 403.1,570.1 400.3,569.8 397.4,569.5 394.6,569.1 391.8,568.8 389.0,568.5 386.2,568.1 383.4,567.8 380.6,567.4 377.8,567.0 375.0,566.7 399.1,517.6 401.4,517.9 403.8,518.2 406.1,518.4 408.4,518.7 410.8,519.0 413.1,519.2 415.4,519.5 417.8,519.7 420.1,519.9 422.5,520.2 424.8,520.4 427.2,520.6 429.5,520.8 431.8,521.0 434.2,521.2 436.5,521.3 438.9,521.5 441.2,521.7 443.6,521.8 445.9,522.0 448.3,522.1 450.7,522.3 453.0,522.4 455.4,522.5 457.7,522.6 460.1,522.7 462.4,522.8 464.8,522.9 467.1,523.0 469.5,523.1 471.9,523.2 474.2,523.2 476.6,523.3 478.9,523.3 481.3,523.4 483.7,523.4 486.0,523.5 488.4,523.5 490.7,523.5 493.1,523.5 495.5,523.5 497.8,523.5 500.2,523.5 502.6,523.5 504.9,523.5 507.3,523.5 509.6,523.4 512.0,523.4 514.4,523.3 516.7,523.3 519.1,523.2 521.5,523.2 523.8,523.1 526.2,523.0 528.6,522.9 530.9,522.9 533.3,522.8 535.7,522.7 538.0,522.6 540.4,522.4 542.8,522.3 545.1,522.2 547.5,522.1 549.9,521.9 552.2,521.8 554.6,521.6 557.0,521.5 559.3,521.3 561.7,521.2 564.1,521.0 566.4,520.8 568.8,520.6 571.1,520.5 573.5,520.3 575.9,520.1 578.2,519.9 580.6,519.6 583.0,519.4 585.3,519.2"/></clipPath>
<clipPath id="sc9"><polygon points="375.0,566.7 372.2,566.3 369.4,565.9 366.6,565.5 363.8,565.1 361.0,564.6 358.3,564.2 355.5,563.8 352.7,563.3 349.9,562.9 347.1,562.4 344.3,561.9 341.6,561.4 338.8,560.9 336.0,560.4 333.2,559.9 330.5,559.4 327.7,558.8 324.9,558.3 322.2,557.7 319.4,557.2 316.6,556.6 313.9,556.0 311.1,555.4 308.4,554.8 305.6,554.2 302.9,553.6 300.1,553.0 297.4,552.3 294.6,551.7 291.9,551.0 289.2,550.4 286.4,549.7 283.7,549.0 281.0,548.3 278.2,547.6 275.5,546.9 272.8,546.1 270.1,545.4 267.4,544.6 264.6,543.9 261.9,543.1 259.2,542.3 256.5,541.6 253.8,540.8 251.1,539.9 248.4,539.1 245.7,538.3 243.0,537.4 240.3,536.6 237.7,535.7 235.0,534.9 232.3,534.0 229.6,533.1 226.9,532.2 224.3,531.3 221.6,530.3 218.9,529.4 216.3,528.4 213.6,527.5 211.0,526.5 208.3,525.5 205.7,524.5 203.1,523.5 200.4,522.5 197.8,521.4 195.2,520.4 192.6,519.3 190.0,518.2 187.4,517.1 184.8,516.0 182.2,514.9 237.8,475.0 240.0,476.0 242.1,476.9 244.3,477.8 246.5,478.7 248.7,479.6 250.9,480.5 253.1,481.4 255.3,482.2 257.5,483.1 259.7,483.9 261.9,484.7 264.1,485.6 266.3,486.4 268.6,487.2 270.8,488.0 273.0,488.7 275.3,489.5 277.5,490.3 279.7,491.0 282.0,491.7 284.2,492.5 286.5,493.2 288.7,493.9 291.0,494.6 293.2,495.3 295.5,496.0 297.8,496.7 300.0,497.3 302.3,498.0 304.6,498.6 306.8,499.2 309.1,499.9 311.4,500.5 313.7,501.1 316.0,501.7 318.2,502.3 320.5,502.9 322.8,503.4 325.1,504.0 327.4,504.6 329.7,505.1 332.0,505.6 334.3,506.2 336.6,506.7 338.8,507.2 341.1,507.7 343.4,508.2 345.7,508.7 348.1,509.2 350.4,509.6 352.7,510.1 355.0,510.5 357.3,511.0 359.6,511.4 361.9,511.9 364.2,512.3 366.5,512.7 368.9,513.1 371.2,513.5 373.5,513.9 375.8,514.2 378.1,514.6 380.5,515.0 382.8,515.3 385.1,515.7 387.4,516.0 389.8,516.3 392.1,516.7 394.4,517.0 396.7,517.3 399.1,517.6"/></clipPath>
<clipPath id="sc10"><polygon points="182.2,514.9 179.6,513.7 177.1,512.5 174.5,511.4 171.9,510.2 169.4,508.9 166.9,507.7 164.4,506.4 161.8,505.1 159.3,503.8 156.9,502.5 154.4,501.2 151.9,499.8 149.4,498.4 147.0,497.0 144.6,495.6 142.2,494.1 139.7,492.7 137.3,491.2 135.0,489.7 132.6,488.1 130.2,486.5 127.9,484.9 125.6,483.3 123.3,481.7 121.0,480.0 118.7,478.3 116.4,476.6 114.2,474.8 111.9,473.0 109.7,471.2 107.5,469.4 105.3,467.5 103.2,465.6 101.0,463.7 98.9,461.8 96.8,459.8 94.7,457.8 92.7,455.7 90.6,453.6 88.7,451.5 86.7,449.4 84.8,447.2 82.9,445.0 81.1,442.8 79.4,440.5 77.7,438.2 148.6,418.1 150.1,419.9 151.6,421.6 153.3,423.3 154.9,425.0 156.6,426.6 158.4,428.2 160.2,429.8 162.0,431.3 163.8,432.8 165.7,434.3 167.6,435.8 169.5,437.2 171.5,438.6 173.4,439.9 175.4,441.3 177.4,442.6 179.3,443.9 181.3,445.2 183.3,446.5 185.3,447.8 187.4,449.0 189.4,450.3 191.4,451.5 193.5,452.7 195.5,453.9 197.6,455.0 199.6,456.2 201.7,457.3 203.8,458.5 205.9,459.6 208.0,460.7 210.1,461.8 212.2,462.9 214.3,464.0 216.4,465.0 218.5,466.1 220.6,467.1 222.7,468.1 224.9,469.2 227.0,470.2 229.2,471.2 231.3,472.1 233.5,473.1 235.6,474.1 237.8,475.0"/></clipPath>
<clipPath id="sc11"><polygon points="77.7,438.2 76.0,435.8 74.4,433.5 72.9,431.1 71.5,428.6 70.1,426.1 68.8,423.6 67.6,421.1 66.4,418.5 65.4,415.9 64.5,413.2 63.7,410.6 63.1,407.9 62.5,405.2 62.1,402.5 61.9,399.8 61.7,397.0 61.7,394.3 61.8,391.6 62.0,388.8 62.3,386.1 62.7,383.4 63.2,380.6 63.8,377.9 64.5,375.2 65.3,372.5 66.2,369.8 67.1,367.2 68.1,364.5 69.2,361.9 70.4,359.3 134.7,356.8 134.2,359.1 133.7,361.4 133.3,363.7 133.0,366.0 132.8,368.3 132.6,370.7 132.6,373.0 132.6,375.3 132.6,377.7 132.8,380.0 133.0,382.3 133.3,384.6 133.7,386.9 134.2,389.1 134.7,391.4 135.3,393.6 136.0,395.8 136.8,398.0 137.7,400.2 138.6,402.3 139.6,404.4 140.7,406.5 141.9,408.5 143.1,410.5 144.4,412.4 145.7,414.4 147.1,416.2 148.6,418.1"/></clipPath>
<clipPath id="sc12"><polygon points="70.4,359.3 71.6,356.7 72.9,354.1 74.3,351.6 75.7,349.1 77.2,346.7 78.7,344.3 80.2,341.9 81.8,339.5 83.4,337.2 85.1,335.0 86.8,332.7 88.6,330.5 90.3,328.4 92.2,326.3 94.0,324.2 95.9,322.1 97.9,320.1 99.8,318.1 101.8,316.1 103.9,314.2 105.9,312.3 108.0,310.4 110.2,308.6 112.3,306.7 114.5,305.0 116.7,303.2 118.9,301.5 121.2,299.8 123.5,298.1 125.8,296.4 128.1,294.8 175.4,299.9 173.5,301.4 171.7,302.9 169.9,304.5 168.1,306.0 166.3,307.6 164.5,309.3 162.8,310.9 161.1,312.6 159.5,314.3 157.8,316.1 156.2,317.8 154.7,319.6 153.1,321.4 151.7,323.3 150.2,325.2 148.8,327.1 147.4,329.0 146.1,331.0 144.8,333.0 143.6,335.0 142.4,337.1 141.3,339.1 140.2,341.3 139.2,343.4 138.3,345.6 137.4,347.8 136.6,350.0 135.9,352.2 135.3,354.5 134.7,356.8"/></clipPath>
<clipPath id="sc13"><polygon points="128.1,294.8 130.4,293.2 132.8,291.6 135.2,290.1 137.6,288.5 140.0,287.0 142.5,285.6 144.9,284.1 147.4,282.6 149.9,281.2 152.4,279.8 154.9,278.4 157.4,277.1 159.9,275.7 162.5,274.4 165.0,273.1 167.6,271.8 170.2,270.5 172.7,269.2 175.3,268.0 177.9,266.8 180.5,265.5 183.1,264.3 185.6,263.1 188.2,262.0 190.8,260.8 193.4,259.6 196.1,258.5 198.7,257.4 201.3,256.3 203.9,255.2 206.5,254.1 209.2,253.1 211.8,252.0 214.4,251.0 250.0,259.0 247.8,259.9 245.6,260.8 243.4,261.7 241.3,262.6 239.1,263.6 237.0,264.5 234.8,265.5 232.7,266.5 230.5,267.5 228.4,268.5 226.3,269.5 224.2,270.5 222.0,271.6 219.9,272.6 217.8,273.7 215.7,274.8 213.6,275.8 211.5,277.0 209.4,278.1 207.3,279.2 205.2,280.4 203.2,281.5 201.1,282.7 199.1,283.9 197.0,285.1 195.0,286.4 192.9,287.6 190.9,288.9 188.9,290.2 187.0,291.5 185.0,292.8 183.0,294.2 181.1,295.6 179.2,297.0 177.3,298.5 175.4,299.9"/></clipPath>
<clipPath id="sc14"><polygon points="214.4,251.0 217.1,249.9 219.7,248.9 222.4,247.9 225.0,247.0 227.7,246.0 230.3,245.0 233.0,244.1 235.7,243.2 238.3,242.2 241.0,241.3 243.7,240.4 246.4,239.6 249.1,238.7 251.8,237.8 254.4,237.0 257.1,236.2 259.8,235.3 262.5,234.5 265.2,233.7 268.0,233.0 270.7,232.2 273.4,231.4 276.1,230.7 278.8,230.0 281.5,229.2 284.3,228.5 287.0,227.8 289.7,227.1 292.4,226.5 295.2,225.8 297.9,225.1 300.7,224.5 303.4,223.9 306.2,223.3 308.9,222.6 311.7,222.0 314.4,221.5 317.2,220.9 319.9,220.3 322.7,219.8 325.5,219.2 342.0,231.7 339.7,232.2 337.4,232.7 335.1,233.2 332.8,233.7 330.5,234.2 328.2,234.7 325.9,235.2 323.6,235.7 321.3,236.3 319.1,236.8 316.8,237.4 314.5,237.9 312.2,238.5 310.0,239.1 307.7,239.7 305.4,240.3 303.2,240.9 300.9,241.6 298.7,242.2 296.4,242.8 294.2,243.5 291.9,244.2 289.7,244.9 287.5,245.5 285.2,246.2 283.0,247.0 280.8,247.7 278.5,248.4 276.3,249.2 274.1,249.9 271.9,250.7 269.7,251.5 267.5,252.3 265.3,253.1 263.1,253.9 260.9,254.7 258.7,255.5 256.5,256.4 254.3,257.2 252.1,258.1 250.0,259.0"/></clipPath>
<clipPath id="sc15"><polygon points="325.5,219.2 328.2,218.7 331.0,218.2 333.8,217.6 336.5,217.1 339.3,216.6 342.1,216.2 344.9,215.7 347.6,215.2 350.4,214.8 353.2,214.3 356.0,213.9 358.8,213.5 361.6,213.1 364.4,212.6 367.2,212.2 370.0,211.9 372.8,211.5 375.6,211.1 378.4,210.8 381.2,210.4 384.0,210.1 386.8,209.7 389.6,209.4 392.4,209.1 395.2,208.8 398.0,208.5 400.8,208.2 403.6,207.9 406.5,207.6 409.3,207.4 412.1,207.1 414.9,206.9 417.7,206.6 420.6,206.4 423.4,206.2 426.2,205.9 429.0,205.7 431.8,205.5 434.7,205.3 437.5,205.1 440.3,205.0 447.5,219.0 445.1,219.2 442.7,219.3 440.4,219.5 438.0,219.6 435.6,219.8 433.3,219.9 430.9,220.1 428.5,220.3 426.2,220.4 423.8,220.6 421.4,220.8 419.1,221.0 416.7,221.2 414.4,221.4 412.0,221.7 409.6,221.9 407.3,222.1 404.9,222.4 402.6,222.6 400.2,222.9 397.9,223.1 395.5,223.4 393.2,223.7 390.8,224.0 388.5,224.2 386.2,224.5 383.8,224.8 381.5,225.2 379.1,225.5 376.8,225.8 374.5,226.2 372.1,226.5 369.8,226.9 367.5,227.2 365.1,227.6 362.8,228.0 360.5,228.3 358.2,228.7 355.9,229.1 353.5,229.6 351.2,230.0 348.9,230.4 346.6,230.8 344.3,231.3 342.0,231.7"/></clipPath>
<filter id="b1" x="-20%" y="-20%" width="140%" height="140%"><feGaussianBlur stdDeviation="0.8"/></filter>
<filter id="b2" x="-20%" y="-20%" width="140%" height="140%"><feGaussianBlur stdDeviation="2"/></filter>
<filter id="b4" x="-30%" y="-30%" width="160%" height="160%"><feGaussianBlur stdDeviation="4.5"/></filter>
<linearGradient id="g4" gradientUnits="userSpaceOnUse" x1="845" y1="296" x2="900" y2="360"><stop offset="0" stop-color="#1c6ad6"/><stop offset="1" stop-color="#3f8eea"/></linearGradient>
</defs>
<g id="ring">
<polygon fill="#ec2430" stroke="#ec2430" stroke-width="0.6" stroke-linejoin="round" points="440.3,205.0 443.2,204.8 446.0,204.6 448.8,204.5 451.6,204.3 454.5,204.2 457.3,204.0 460.1,203.9 463.0,203.8 465.8,203.7 468.6,203.5 471.5,203.4 474.3,203.3 477.1,203.3 480.0,203.2 482.8,203.1 485.6,203.0 488.5,203.0 491.3,202.9 494.2,202.8 497.0,202.8 499.8,202.8 502.7,202.7 505.5,202.7 508.3,202.7 511.2,202.7 514.0,202.7 516.8,202.7 519.7,202.7 522.5,202.7 525.4,202.7 528.2,202.7 531.0,202.8 533.9,202.8 536.7,202.9 539.5,202.9 542.4,203.0 545.2,203.1 548.0,203.2 550.8,203.3 553.7,203.4 556.5,203.5 559.3,203.6 551.8,218.4 549.5,218.3 547.1,218.2 544.7,218.1 542.4,218.0 540.0,218.0 537.6,217.9 535.3,217.8 532.9,217.8 530.5,217.7 528.2,217.7 525.8,217.6 523.4,217.6 521.1,217.6 518.7,217.5 516.3,217.5 513.9,217.5 511.6,217.5 509.2,217.5 506.8,217.5 504.4,217.5 502.1,217.5 499.7,217.5 497.3,217.5 495.0,217.6 492.6,217.6 490.2,217.6 487.8,217.7 485.5,217.7 483.1,217.7 480.7,217.8 478.3,217.9 476.0,217.9 473.6,218.0 471.2,218.0 468.8,218.1 466.5,218.2 464.1,218.3 461.7,218.4 459.3,218.5 457.0,218.6 454.6,218.7 452.2,218.8 449.8,218.9 447.5,219.0"/>
<polygon fill="#0762de" stroke="#0762de" stroke-width="0.6" stroke-linejoin="round" points="559.3,203.6 562.2,203.7 565.0,203.8 567.8,204.0 570.6,204.1 573.5,204.3 576.3,204.5 579.1,204.6 581.9,204.8 584.8,205.0 587.6,205.2 590.4,205.4 593.2,205.7 596.0,205.9 598.8,206.1 601.7,206.4 604.5,206.6 607.3,206.9 610.1,207.2 612.9,207.5 615.7,207.8 618.5,208.1 621.3,208.4 624.1,208.7 626.9,209.1 629.7,209.4 632.5,209.8 635.3,210.1 638.1,210.5 640.9,210.9 643.7,211.3 646.5,211.7 649.3,212.1 652.1,212.5 654.9,213.0 657.6,213.4 660.4,213.9 663.2,214.4 666.0,214.8 668.8,215.3 671.5,215.8 674.3,216.4 677.1,216.9 679.8,217.4 659.2,231.0 656.9,230.5 654.6,230.1 652.3,229.6 650.0,229.2 647.7,228.8 645.4,228.4 643.0,228.0 640.7,227.6 638.4,227.2 636.1,226.8 633.8,226.4 631.5,226.0 629.2,225.7 626.8,225.3 624.5,225.0 622.2,224.7 619.9,224.4 617.5,224.0 615.2,223.7 612.9,223.4 610.5,223.2 608.2,222.9 605.9,222.6 603.5,222.3 601.2,222.1 598.9,221.8 596.5,221.6 594.2,221.4 591.8,221.1 589.5,220.9 587.1,220.7 584.8,220.5 582.4,220.3 580.1,220.1 577.7,219.9 575.4,219.8 573.0,219.6 570.7,219.4 568.3,219.3 566.0,219.1 563.6,219.0 561.3,218.9 558.9,218.7 556.5,218.6 554.2,218.5 551.8,218.4"/>
<polygon fill="#ffc937" stroke="#ffc937" stroke-width="0.6" stroke-linejoin="round" points="679.8,217.4 682.6,218.0 685.4,218.5 688.1,219.1 690.9,219.7 693.6,220.3 696.4,220.9 699.1,221.5 701.9,222.1 704.6,222.8 707.4,223.4 710.1,224.1 712.8,224.8 715.6,225.5 718.3,226.2 721.0,226.9 723.8,227.6 726.5,228.4 729.2,229.1 731.9,229.9 734.7,230.7 737.4,231.5 740.1,232.3 742.8,233.1 745.5,233.9 748.2,234.8 750.9,235.6 753.6,236.5 756.3,237.4 759.0,238.3 761.6,239.2 764.3,240.1 767.0,241.1 769.7,242.0 772.3,243.0 775.0,244.0 777.7,245.0 780.3,246.0 783.0,247.0 785.7,248.0 751.3,259.2 749.1,258.3 746.9,257.4 744.7,256.5 742.5,255.6 740.3,254.7 738.1,253.9 735.9,253.0 733.7,252.2 731.4,251.4 729.2,250.6 727.0,249.8 724.8,249.0 722.6,248.2 720.3,247.4 718.1,246.7 715.9,246.0 713.6,245.2 711.4,244.5 709.1,243.8 706.9,243.1 704.6,242.4 702.4,241.8 700.1,241.1 697.9,240.4 695.6,239.8 693.4,239.2 691.1,238.6 688.8,238.0 686.6,237.4 684.3,236.8 682.0,236.2 679.7,235.6 677.5,235.1 675.2,234.5 672.9,234.0 670.6,233.5 668.3,233.0 666.0,232.5 663.8,232.0 661.5,231.5 659.2,231.0"/>
<polygon fill="#ee3246" stroke="#ee3246" stroke-width="0.6" stroke-linejoin="round" points="785.7,248.0 788.3,249.1 790.9,250.2 793.6,251.2 796.2,252.3 798.9,253.4 801.5,254.6 804.1,255.7 806.7,256.9 809.3,258.0 811.9,259.2 814.5,260.4 817.1,261.7 819.6,262.9 822.2,264.2 824.8,265.5 827.3,266.8 829.8,268.1 832.3,269.4 834.8,270.8 837.3,272.1 839.8,273.5 842.3,274.9 844.7,276.4 847.2,277.8 849.6,279.3 852.0,280.8 854.4,282.3 856.8,283.9 859.1,285.4 861.4,287.0 863.8,288.6 866.1,290.2 868.4,291.9 870.6,293.6 822.9,301.3 821.1,299.8 819.2,298.3 817.3,296.8 815.4,295.4 813.5,293.9 811.6,292.5 809.7,291.1 807.7,289.8 805.7,288.4 803.8,287.1 801.8,285.8 799.8,284.5 797.8,283.2 795.7,281.9 793.7,280.7 791.7,279.5 789.6,278.2 787.5,277.1 785.5,275.9 783.4,274.7 781.3,273.6 779.2,272.5 777.1,271.3 775.0,270.2 772.9,269.2 770.7,268.1 768.6,267.1 766.5,266.0 764.3,265.0 762.1,264.0 760.0,263.0 757.8,262.0 755.6,261.1 753.5,260.1 751.3,259.2"/>
<polygon fill="url(#g4)" stroke="#2b7be0" stroke-width="0.6" stroke-linejoin="round" points="870.6,293.6 872.9,295.3 875.1,297.0 877.3,298.7 879.5,300.5 881.6,302.3 883.8,304.1 885.9,306.0 888.0,307.8 890.1,309.7 892.1,311.7 894.1,313.6 896.1,315.6 898.1,317.6 900.1,319.6 902.0,321.7 903.9,323.7 905.7,325.9 907.6,328.0 909.4,330.2 911.2,332.4 912.9,334.6 914.7,336.8 916.4,339.1 918.0,341.4 919.7,343.8 921.3,346.2 922.8,348.6 924.3,351.0 925.8,353.5 927.2,355.9 928.5,358.5 929.8,361.0 861.6,355.4 861.0,353.1 860.4,350.9 859.7,348.7 858.9,346.6 858.1,344.5 857.2,342.4 856.2,340.3 855.2,338.3 854.1,336.3 852.9,334.3 851.7,332.3 850.5,330.4 849.2,328.5 847.8,326.6 846.4,324.7 844.9,322.9 843.4,321.1 841.9,319.3 840.3,317.6 838.7,315.9 837.1,314.1 835.4,312.5 833.7,310.8 832.0,309.2 830.2,307.5 828.4,305.9 826.6,304.4 824.8,302.8 822.9,301.3"/>
<polygon fill="#5b9feb" stroke="#5b9feb" stroke-width="0.6" stroke-linejoin="round" points="929.8,361.0 931.0,363.6 932.1,366.2 933.2,368.8 934.1,371.4 934.9,374.1 935.7,376.8 936.3,379.5 936.8,382.2 937.1,385.0 937.4,387.8 937.5,390.5 937.6,393.3 937.5,396.1 937.3,398.8 937.0,401.6 936.6,404.3 936.1,407.0 935.6,409.7 934.9,412.4 934.1,415.1 933.3,417.8 932.3,420.4 931.3,423.1 930.2,425.7 929.1,428.3 927.8,430.8 926.5,433.4 925.1,435.9 923.7,438.4 922.2,440.9 920.6,443.3 845.4,422.4 846.8,420.5 848.2,418.6 849.5,416.7 850.8,414.8 852.0,412.8 853.1,410.8 854.3,408.7 855.3,406.6 856.3,404.4 857.2,402.2 858.1,400.0 858.9,397.7 859.6,395.4 860.3,393.1 860.9,390.8 861.4,388.4 861.9,386.1 862.3,383.7 862.6,381.3 862.9,378.9 863.1,376.5 863.2,374.1 863.3,371.7 863.2,369.3 863.1,367.0 863.0,364.6 862.7,362.3 862.4,359.9 862.0,357.6 861.6,355.4"/>
<polygon fill="#ffd23c" stroke="#ffd23c" stroke-width="0.6" stroke-linejoin="round" points="920.6,443.3 919.0,445.7 917.3,448.1 915.6,450.4 913.9,452.8 912.1,455.0 910.2,457.3 908.3,459.5 906.4,461.7 904.5,463.8 902.5,465.9 900.5,467.9 898.4,469.9 896.4,471.9 894.3,473.8 892.2,475.7 890.0,477.6 887.9,479.4 885.7,481.2 883.5,483.0 881.2,484.7 879.0,486.4 876.7,488.1 874.4,489.7 872.1,491.3 869.7,492.9 867.4,494.5 865.0,496.0 862.6,497.5 860.2,499.0 857.7,500.4 855.3,501.8 852.8,503.2 850.4,504.6 847.9,505.9 845.4,507.2 842.9,508.5 840.4,509.8 837.8,511.1 835.3,512.3 832.7,513.6 830.2,514.8 827.6,516.0 825.0,517.1 822.4,518.3 819.9,519.4 817.3,520.6 752.8,482.0 754.9,481.1 757.1,480.1 759.3,479.2 761.4,478.3 763.6,477.3 765.7,476.4 767.9,475.4 770.0,474.4 772.1,473.4 774.2,472.4 776.4,471.3 778.5,470.3 780.6,469.2 782.7,468.1 784.8,467.0 786.9,465.9 789.0,464.8 791.0,463.7 793.1,462.5 795.2,461.4 797.2,460.2 799.3,459.0 801.3,457.8 803.4,456.6 805.4,455.3 807.5,454.1 809.5,452.8 811.5,451.5 813.5,450.2 815.5,448.8 817.4,447.5 819.4,446.1 821.3,444.7 823.2,443.3 825.1,441.9 827.0,440.4 828.8,438.9 830.7,437.4 832.4,435.8 834.2,434.3 835.9,432.7 837.6,431.0 839.2,429.4 840.8,427.7 842.4,425.9 843.9,424.2 845.4,422.4"/>
<polygon fill="#f22430" stroke="#f22430" stroke-width="0.6" stroke-linejoin="round" points="817.3,520.6 814.7,521.7 812.1,522.8 809.4,523.8 806.8,524.9 804.2,526.0 801.6,527.0 799.0,528.1 796.3,529.1 793.7,530.1 791.1,531.1 788.4,532.1 785.8,533.0 783.1,534.0 780.5,534.9 777.8,535.9 775.1,536.8 772.5,537.7 769.8,538.6 767.1,539.4 764.5,540.3 761.8,541.2 759.1,542.0 756.4,542.8 753.7,543.7 751.0,544.5 748.3,545.3 745.6,546.0 742.9,546.8 740.2,547.6 737.5,548.3 734.8,549.0 732.0,549.8 729.3,550.5 726.6,551.2 723.9,551.9 721.1,552.5 718.4,553.2 715.6,553.9 712.9,554.5 710.2,555.1 707.4,555.8 704.7,556.4 701.9,557.0 699.2,557.6 696.4,558.1 693.6,558.7 690.9,559.3 688.1,559.8 685.3,560.3 682.6,560.9 679.8,561.4 677.0,561.9 674.2,562.4 671.5,562.9 668.7,563.3 665.9,563.8 663.1,564.2 660.3,564.7 657.5,565.1 654.7,565.5 651.9,565.9 649.1,566.4 646.3,566.7 643.5,567.1 640.7,567.5 637.9,567.9 635.1,568.2 632.3,568.6 629.5,568.9 626.7,569.2 623.9,569.6 621.1,569.9 618.2,570.2 615.4,570.5 585.3,519.2 587.7,519.0 590.0,518.8 592.4,518.5 594.8,518.3 597.1,518.0 599.5,517.8 601.8,517.5 604.2,517.3 606.5,517.0 608.9,516.7 611.3,516.4 613.6,516.1 616.0,515.8 618.3,515.5 620.7,515.2 623.0,514.9 625.4,514.6 627.7,514.2 630.0,513.9 632.4,513.6 634.7,513.2 637.1,512.8 639.4,512.5 641.7,512.1 644.1,511.7 646.4,511.3 648.7,510.9 651.1,510.5 653.4,510.1 655.7,509.7 658.0,509.2 660.4,508.8 662.7,508.3 665.0,507.9 667.3,507.4 669.6,506.9 671.9,506.4 674.2,506.0 676.5,505.4 678.8,504.9 681.1,504.4 683.4,503.9 685.7,503.3 688.0,502.8 690.3,502.2 692.6,501.6 694.8,501.1 697.1,500.5 699.4,499.9 701.7,499.2 703.9,498.6 706.2,498.0 708.4,497.3 710.7,496.7 712.9,496.0 715.2,495.3 717.4,494.6 719.7,493.9 721.9,493.2 724.1,492.5 726.4,491.8 728.6,491.0 730.8,490.2 733.0,489.5 735.2,488.7 737.4,487.9 739.6,487.1 741.8,486.3 744.0,485.4 746.2,484.6 748.4,483.7 750.6,482.8 752.8,482.0"/>
<polygon fill="#0565e4" stroke="#0565e4" stroke-width="0.6" stroke-linejoin="round" points="615.4,570.5 612.6,570.7 609.8,571.0 607.0,571.3 604.1,571.5 601.3,571.8 598.5,572.0 595.7,572.3 592.8,572.5 590.0,572.7 587.2,572.9 584.3,573.1 581.5,573.3 578.7,573.5 575.8,573.6 573.0,573.8 570.2,574.0 567.3,574.1 564.5,574.3 561.7,574.4 558.8,574.5 556.0,574.6 553.2,574.7 550.3,574.8 547.5,574.9 544.6,575.0 541.8,575.1 539.0,575.2 536.1,575.3 533.3,575.3 530.5,575.4 527.6,575.4 524.8,575.5 521.9,575.5 519.1,575.5 516.3,575.5 513.4,575.5 510.6,575.5 507.7,575.5 504.9,575.5 502.1,575.5 499.2,575.5 496.4,575.5 493.5,575.4 490.7,575.4 487.9,575.3 485.0,575.3 482.2,575.2 479.4,575.1 476.5,575.0 473.7,574.9 470.9,574.8 468.0,574.7 465.2,574.6 462.4,574.5 459.5,574.4 456.7,574.2 453.9,574.1 451.0,573.9 448.2,573.8 445.4,573.6 442.5,573.4 439.7,573.2 436.9,573.0 434.1,572.8 431.2,572.6 428.4,572.4 425.6,572.2 422.8,571.9 420.0,571.7 417.1,571.4 414.3,571.2 411.5,570.9 408.7,570.6 405.9,570.4 403.1,570.1 400.3,569.8 397.4,569.5 394.6,569.1 391.8,568.8 389.0,568.5 386.2,568.1 383.4,567.8 380.6,567.4 377.8,567.0 375.0,566.7 399.1,517.6 401.4,517.9 403.8,518.2 406.1,518.4 408.4,518.7 410.8,519.0 413.1,519.2 415.4,519.5 417.8,519.7 420.1,519.9 422.5,520.2 424.8,520.4 427.2,520.6 429.5,520.8 431.8,521.0 434.2,521.2 436.5,521.3 438.9,521.5 441.2,521.7 443.6,521.8 445.9,522.0 448.3,522.1 450.7,522.3 453.0,522.4 455.4,522.5 457.7,522.6 460.1,522.7 462.4,522.8 464.8,522.9 467.1,523.0 469.5,523.1 471.9,523.2 474.2,523.2 476.6,523.3 478.9,523.3 481.3,523.4 483.7,523.4 486.0,523.5 488.4,523.5 490.7,523.5 493.1,523.5 495.5,523.5 497.8,523.5 500.2,523.5 502.6,523.5 504.9,523.5 507.3,523.5 509.6,523.4 512.0,523.4 514.4,523.3 516.7,523.3 519.1,523.2 521.5,523.2 523.8,523.1 526.2,523.0 528.6,522.9 530.9,522.9 533.3,522.8 535.7,522.7 538.0,522.6 540.4,522.4 542.8,522.3 545.1,522.2 547.5,522.1 549.9,521.9 552.2,521.8 554.6,521.6 557.0,521.5 559.3,521.3 561.7,521.2 564.1,521.0 566.4,520.8 568.8,520.6 571.1,520.5 573.5,520.3 575.9,520.1 578.2,519.9 580.6,519.6 583.0,519.4 585.3,519.2"/>
<polygon fill="#ffd330" stroke="#ffd330" stroke-width="0.6" stroke-linejoin="round" points="375.0,566.7 372.2,566.3 369.4,565.9 366.6,565.5 363.8,565.1 361.0,564.6 358.3,564.2 355.5,563.8 352.7,563.3 349.9,562.9 347.1,562.4 344.3,561.9 341.6,561.4 338.8,560.9 336.0,560.4 333.2,559.9 330.5,559.4 327.7,558.8 324.9,558.3 322.2,557.7 319.4,557.2 316.6,556.6 313.9,556.0 311.1,555.4 308.4,554.8 305.6,554.2 302.9,553.6 300.1,553.0 297.4,552.3 294.6,551.7 291.9,551.0 289.2,550.4 286.4,549.7 283.7,549.0 281.0,548.3 278.2,547.6 275.5,546.9 272.8,546.1 270.1,545.4 267.4,544.6 264.6,543.9 261.9,543.1 259.2,542.3 256.5,541.6 253.8,540.8 251.1,539.9 248.4,539.1 245.7,538.3 243.0,537.4 240.3,536.6 237.7,535.7 235.0,534.9 232.3,534.0 229.6,533.1 226.9,532.2 224.3,531.3 221.6,530.3 218.9,529.4 216.3,528.4 213.6,527.5 211.0,526.5 208.3,525.5 205.7,524.5 203.1,523.5 200.4,522.5 197.8,521.4 195.2,520.4 192.6,519.3 190.0,518.2 187.4,517.1 184.8,516.0 182.2,514.9 237.8,475.0 240.0,476.0 242.1,476.9 244.3,477.8 246.5,478.7 248.7,479.6 250.9,480.5 253.1,481.4 255.3,482.2 257.5,483.1 259.7,483.9 261.9,484.7 264.1,485.6 266.3,486.4 268.6,487.2 270.8,488.0 273.0,488.7 275.3,489.5 277.5,490.3 279.7,491.0 282.0,491.7 284.2,492.5 286.5,493.2 288.7,493.9 291.0,494.6 293.2,495.3 295.5,496.0 297.8,496.7 300.0,497.3 302.3,498.0 304.6,498.6 306.8,499.2 309.1,499.9 311.4,500.5 313.7,501.1 316.0,501.7 318.2,502.3 320.5,502.9 322.8,503.4 325.1,504.0 327.4,504.6 329.7,505.1 332.0,505.6 334.3,506.2 336.6,506.7 338.8,507.2 341.1,507.7 343.4,508.2 345.7,508.7 348.1,509.2 350.4,509.6 352.7,510.1 355.0,510.5 357.3,511.0 359.6,511.4 361.9,511.9 364.2,512.3 366.5,512.7 368.9,513.1 371.2,513.5 373.5,513.9 375.8,514.2 378.1,514.6 380.5,515.0 382.8,515.3 385.1,515.7 387.4,516.0 389.8,516.3 392.1,516.7 394.4,517.0 396.7,517.3 399.1,517.6"/>
<polygon fill="#f42431" stroke="#f42431" stroke-width="0.6" stroke-linejoin="round" points="182.2,514.9 179.6,513.7 177.1,512.5 174.5,511.4 171.9,510.2 169.4,508.9 166.9,507.7 164.4,506.4 161.8,505.1 159.3,503.8 156.9,502.5 154.4,501.2 151.9,499.8 149.4,498.4 147.0,497.0 144.6,495.6 142.2,494.1 139.7,492.7 137.3,491.2 135.0,489.7 132.6,488.1 130.2,486.5 127.9,484.9 125.6,483.3 123.3,481.7 121.0,480.0 118.7,478.3 116.4,476.6 114.2,474.8 111.9,473.0 109.7,471.2 107.5,469.4 105.3,467.5 103.2,465.6 101.0,463.7 98.9,461.8 96.8,459.8 94.7,457.8 92.7,455.7 90.6,453.6 88.7,451.5 86.7,449.4 84.8,447.2 82.9,445.0 81.1,442.8 79.4,440.5 77.7,438.2 148.6,418.1 150.1,419.9 151.6,421.6 153.3,423.3 154.9,425.0 156.6,426.6 158.4,428.2 160.2,429.8 162.0,431.3 163.8,432.8 165.7,434.3 167.6,435.8 169.5,437.2 171.5,438.6 173.4,439.9 175.4,441.3 177.4,442.6 179.3,443.9 181.3,445.2 183.3,446.5 185.3,447.8 187.4,449.0 189.4,450.3 191.4,451.5 193.5,452.7 195.5,453.9 197.6,455.0 199.6,456.2 201.7,457.3 203.8,458.5 205.9,459.6 208.0,460.7 210.1,461.8 212.2,462.9 214.3,464.0 216.4,465.0 218.5,466.1 220.6,467.1 222.7,468.1 224.9,469.2 227.0,470.2 229.2,471.2 231.3,472.1 233.5,473.1 235.6,474.1 237.8,475.0"/>
<polygon fill="#0666e4" stroke="#0666e4" stroke-width="0.6" stroke-linejoin="round" points="77.7,438.2 76.0,435.8 74.4,433.5 72.9,431.1 71.5,428.6 70.1,426.1 68.8,423.6 67.6,421.1 66.4,418.5 65.4,415.9 64.5,413.2 63.7,410.6 63.1,407.9 62.5,405.2 62.1,402.5 61.9,399.8 61.7,397.0 61.7,394.3 61.8,391.6 62.0,388.8 62.3,386.1 62.7,383.4 63.2,380.6 63.8,377.9 64.5,375.2 65.3,372.5 66.2,369.8 67.1,367.2 68.1,364.5 69.2,361.9 70.4,359.3 134.7,356.8 134.2,359.1 133.7,361.4 133.3,363.7 133.0,366.0 132.8,368.3 132.6,370.7 132.6,373.0 132.6,375.3 132.6,377.7 132.8,380.0 133.0,382.3 133.3,384.6 133.7,386.9 134.2,389.1 134.7,391.4 135.3,393.6 136.0,395.8 136.8,398.0 137.7,400.2 138.6,402.3 139.6,404.4 140.7,406.5 141.9,408.5 143.1,410.5 144.4,412.4 145.7,414.4 147.1,416.2 148.6,418.1"/>
<polygon fill="#ffd630" stroke="#ffd630" stroke-width="0.6" stroke-linejoin="round" points="70.4,359.3 71.6,356.7 72.9,354.1 74.3,351.6 75.7,349.1 77.2,346.7 78.7,344.3 80.2,341.9 81.8,339.5 83.4,337.2 85.1,335.0 86.8,332.7 88.6,330.5 90.3,328.4 92.2,326.3 94.0,324.2 95.9,322.1 97.9,320.1 99.8,318.1 101.8,316.1 103.9,314.2 105.9,312.3 108.0,310.4 110.2,308.6 112.3,306.7 114.5,305.0 116.7,303.2 118.9,301.5 121.2,299.8 123.5,298.1 125.8,296.4 128.1,294.8 175.4,299.9 173.5,301.4 171.7,302.9 169.9,304.5 168.1,306.0 166.3,307.6 164.5,309.3 162.8,310.9 161.1,312.6 159.5,314.3 157.8,316.1 156.2,317.8 154.7,319.6 153.1,321.4 151.7,323.3 150.2,325.2 148.8,327.1 147.4,329.0 146.1,331.0 144.8,333.0 143.6,335.0 142.4,337.1 141.3,339.1 140.2,341.3 139.2,343.4 138.3,345.6 137.4,347.8 136.6,350.0 135.9,352.2 135.3,354.5 134.7,356.8"/>
<polygon fill="#f02a34" stroke="#f02a34" stroke-width="0.6" stroke-linejoin="round" points="128.1,294.8 130.4,293.2 132.8,291.6 135.2,290.1 137.6,288.5 140.0,287.0 142.5,285.6 144.9,284.1 147.4,282.6 149.9,281.2 152.4,279.8 154.9,278.4 157.4,277.1 159.9,275.7 162.5,274.4 165.0,273.1 167.6,271.8 170.2,270.5 172.7,269.2 175.3,268.0 177.9,266.8 180.5,265.5 183.1,264.3 185.6,263.1 188.2,262.0 190.8,260.8 193.4,259.6 196.1,258.5 198.7,257.4 201.3,256.3 203.9,255.2 206.5,254.1 209.2,253.1 211.8,252.0 214.4,251.0 250.0,259.0 247.8,259.9 245.6,260.8 243.4,261.7 241.3,262.6 239.1,263.6 237.0,264.5 234.8,265.5 232.7,266.5 230.5,267.5 228.4,268.5 226.3,269.5 224.2,270.5 222.0,271.6 219.9,272.6 217.8,273.7 215.7,274.8 213.6,275.8 211.5,277.0 209.4,278.1 207.3,279.2 205.2,280.4 203.2,281.5 201.1,282.7 199.1,283.9 197.0,285.1 195.0,286.4 192.9,287.6 190.9,288.9 188.9,290.2 187.0,291.5 185.0,292.8 183.0,294.2 181.1,295.6 179.2,297.0 177.3,298.5 175.4,299.9"/>
<polygon fill="#0866e2" stroke="#0866e2" stroke-width="0.6" stroke-linejoin="round" points="214.4,251.0 217.1,249.9 219.7,248.9 222.4,247.9 225.0,247.0 227.7,246.0 230.3,245.0 233.0,244.1 235.7,243.2 238.3,242.2 241.0,241.3 243.7,240.4 246.4,239.6 249.1,238.7 251.8,237.8 254.4,237.0 257.1,236.2 259.8,235.3 262.5,234.5 265.2,233.7 268.0,233.0 270.7,232.2 273.4,231.4 276.1,230.7 278.8,230.0 281.5,229.2 284.3,228.5 287.0,227.8 289.7,227.1 292.4,226.5 295.2,225.8 297.9,225.1 300.7,224.5 303.4,223.9 306.2,223.3 308.9,222.6 311.7,222.0 314.4,221.5 317.2,220.9 319.9,220.3 322.7,219.8 325.5,219.2 342.0,231.7 339.7,232.2 337.4,232.7 335.1,233.2 332.8,233.7 330.5,234.2 328.2,234.7 325.9,235.2 323.6,235.7 321.3,236.3 319.1,236.8 316.8,237.4 314.5,237.9 312.2,238.5 310.0,239.1 307.7,239.7 305.4,240.3 303.2,240.9 300.9,241.6 298.7,242.2 296.4,242.8 294.2,243.5 291.9,244.2 289.7,244.9 287.5,245.5 285.2,246.2 283.0,247.0 280.8,247.7 278.5,248.4 276.3,249.2 274.1,249.9 271.9,250.7 269.7,251.5 267.5,252.3 265.3,253.1 263.1,253.9 260.9,254.7 258.7,255.5 256.5,256.4 254.3,257.2 252.1,258.1 250.0,259.0"/>
<polygon fill="#ffcc2e" stroke="#ffcc2e" stroke-width="0.6" stroke-linejoin="round" points="325.5,219.2 328.2,218.7 331.0,218.2 333.8,217.6 336.5,217.1 339.3,216.6 342.1,216.2 344.9,215.7 347.6,215.2 350.4,214.8 353.2,214.3 356.0,213.9 358.8,213.5 361.6,213.1 364.4,212.6 367.2,212.2 370.0,211.9 372.8,211.5 375.6,211.1 378.4,210.8 381.2,210.4 384.0,210.1 386.8,209.7 389.6,209.4 392.4,209.1 395.2,208.8 398.0,208.5 400.8,208.2 403.6,207.9 406.5,207.6 409.3,207.4 412.1,207.1 414.9,206.9 417.7,206.6 420.6,206.4 423.4,206.2 426.2,205.9 429.0,205.7 431.8,205.5 434.7,205.3 437.5,205.1 440.3,205.0 447.5,219.0 445.1,219.2 442.7,219.3 440.4,219.5 438.0,219.6 435.6,219.8 433.3,219.9 430.9,220.1 428.5,220.3 426.2,220.4 423.8,220.6 421.4,220.8 419.1,221.0 416.7,221.2 414.4,221.4 412.0,221.7 409.6,221.9 407.3,222.1 404.9,222.4 402.6,222.6 400.2,222.9 397.9,223.1 395.5,223.4 393.2,223.7 390.8,224.0 388.5,224.2 386.2,224.5 383.8,224.8 381.5,225.2 379.1,225.5 376.8,225.8 374.5,226.2 372.1,226.5 369.8,226.9 367.5,227.2 365.1,227.6 362.8,228.0 360.5,228.3 358.2,228.7 355.9,229.1 353.5,229.6 351.2,230.0 348.9,230.4 346.6,230.8 344.3,231.3 342.0,231.7"/>
</g>
<g clip-path="url(#ringclip)" fill="none" stroke-linecap="round">
<path d="M327.9 221.1 L330.6 220.6 L333.3 220.1 L336.0 219.6 L338.7 219.1 L341.4 218.6 L344.2 218.1 L346.9 217.6 L349.6 217.2 L352.3 216.7 L355.0 216.3 L358.1 215.8 L360.8 215.4 L363.5 215.0 L366.2 214.6 L369.0 214.2 L371.7 213.9 L374.4 213.5 L377.2 213.1 L379.9 212.8 L382.6 212.4 L385.7 212.1 L388.4 211.7 L391.2 211.4 L393.9 211.1 L396.7 210.8 L399.4 210.5 L402.2 210.2 L404.9 210.0 L407.6 209.7 L410.4 209.4 L413.5 209.2 L416.2 208.9 L419.0 208.7 L421.8 208.5 L424.5 208.2 L427.3 208.0 L430.0 207.8 L432.8 207.6 L435.5 207.4 L438.3 207.3 L441.4 207.1" stroke="#ffffff" stroke-width="4.0" opacity="0.08" filter="url(#b2)" clip-path="url(#sc15)"/>
<path d="M341.2 231.1 L343.5 230.7 L345.8 230.2 L348.2 229.8 L350.5 229.3 L352.8 228.9 L355.2 228.5 L357.5 228.1 L359.9 227.7 L362.2 227.3 L364.5 226.9 L369.1 226.2 L371.5 225.8 L373.8 225.5 L376.2 225.2 L378.5 224.8 L380.9 224.5 L383.3 224.2 L385.6 223.9 L388.0 223.6 L390.4 223.3 L395.0 222.7 L397.3 222.5 L399.7 222.2 L402.1 221.9 L404.5 221.7 L406.8 221.4 L409.2 221.2 L411.6 221.0 L414.0 220.7 L416.3 220.5 L421.0 220.1 L423.4 219.9 L425.7 219.8 L428.1 219.6 L430.5 219.4 L432.9 219.2 L435.3 219.1 L437.7 218.9 L440.1 218.8 L442.5 218.6 L447.1 218.3" stroke="#000020" stroke-width="3.0" opacity="0.20" filter="url(#b2)" clip-path="url(#sc15)"/>
<path d="M441.4 207.1 L444.2 206.9 L446.9 206.8 L449.7 206.6 L452.4 206.5 L455.2 206.3 L458.0 206.2 L460.7 206.1 L463.5 205.9 L466.3 205.8 L469.0 205.7 L471.8 205.6 L474.6 205.5 L477.3 205.4 L480.1 205.4 L482.9 205.3 L485.6 205.2 L488.4 205.2 L491.2 205.1 L493.9 205.1 L496.7 205.0 L499.8 205.0 L502.6 204.9 L505.3 204.9 L508.1 204.9 L510.9 204.9 L513.6 204.9 L516.4 204.9 L519.2 204.9 L521.9 204.9 L524.7 204.9 L527.5 205.0 L530.2 205.0 L533.0 205.1 L535.8 205.1 L538.5 205.2 L541.3 205.2 L544.1 205.3 L546.8 205.4 L549.6 205.5 L552.3 205.6 L555.1 205.7 L558.2 205.8" stroke="#ffffff" stroke-width="4.0" opacity="0.08" filter="url(#b2)" clip-path="url(#sc0)"/>
<path d="M447.1 218.3 L449.5 218.2 L451.9 218.1 L454.3 218.0 L456.7 217.9 L459.1 217.8 L461.5 217.7 L463.9 217.6 L466.3 217.5 L468.7 217.4 L471.1 217.3 L473.5 217.3 L475.9 217.2 L478.3 217.1 L480.7 217.1 L483.1 217.0 L485.5 217.0 L487.9 216.9 L490.3 216.9 L492.7 216.8 L495.1 216.8 L499.7 216.8 L502.1 216.8 L504.5 216.8 L506.9 216.7 L509.3 216.7 L511.7 216.7 L514.1 216.8 L516.5 216.8 L518.9 216.8 L521.3 216.8 L523.7 216.9 L526.1 216.9 L528.4 216.9 L530.8 217.0 L533.2 217.0 L535.6 217.1 L538.0 217.2 L540.4 217.2 L542.8 217.3 L545.2 217.4 L547.6 217.5 L552.2 217.7" stroke="#000020" stroke-width="3.0" opacity="0.20" filter="url(#b2)" clip-path="url(#sc0)"/>
<path d="M558.2 205.8 L561.0 205.9 L563.7 206.1 L566.5 206.2 L569.2 206.4 L572.0 206.5 L574.7 206.7 L577.5 206.8 L580.3 207.0 L583.0 207.2 L585.8 207.4 L588.5 207.6 L591.2 207.8 L594.0 208.1 L596.7 208.3 L599.8 208.6 L602.6 208.8 L605.3 209.1 L608.1 209.3 L610.8 209.6 L613.5 209.9 L616.3 210.2 L619.0 210.5 L621.7 210.8 L624.5 211.2 L627.2 211.5 L629.9 211.9 L632.7 212.2 L635.4 212.6 L638.5 213.0 L641.2 213.4 L643.9 213.8 L646.6 214.2 L649.3 214.6 L652.0 215.0 L654.8 215.5 L657.5 215.9 L660.2 216.4 L662.9 216.9 L665.6 217.4 L668.3 217.8 L671.0 218.3 L673.7 218.9 L676.7 219.5" stroke="#ffffff" stroke-width="4.0" opacity="0.08" filter="url(#b2)" clip-path="url(#sc1)"/>
<path d="M552.2 217.7 L554.6 217.8 L557.0 217.9 L559.3 218.0 L561.7 218.1 L564.1 218.3 L566.5 218.4 L568.9 218.6 L571.3 218.7 L573.6 218.9 L576.0 219.0 L578.4 219.2 L580.8 219.4 L583.1 219.6 L585.5 219.8 L590.1 220.2 L592.5 220.4 L594.8 220.6 L597.2 220.9 L599.6 221.1 L601.9 221.4 L604.3 221.6 L606.6 221.9 L609.0 222.2 L611.4 222.5 L613.7 222.7 L616.1 223.0 L618.4 223.3 L620.8 223.7 L625.3 224.3 L627.7 224.6 L630.0 225.0 L632.4 225.3 L634.7 225.7 L637.0 226.1 L639.4 226.5 L641.7 226.9 L644.1 227.3 L646.4 227.7 L648.7 228.1 L651.0 228.5 L653.4 229.0 L655.7 229.4 L660.2 230.3" stroke="#000020" stroke-width="3.0" opacity="0.20" filter="url(#b2)" clip-path="url(#sc1)"/>
<path d="M676.7 219.5 L679.4 220.0 L682.1 220.5 L684.8 221.1 L687.5 221.7 L690.2 222.3 L692.9 222.9 L695.5 223.5 L698.2 224.1 L700.9 224.7 L703.6 225.4 L706.2 226.0 L708.9 226.7 L711.6 227.4 L714.2 228.0 L716.9 228.7 L719.5 229.5 L722.2 230.2 L724.9 230.9 L727.5 231.7 L730.5 232.5 L733.1 233.3 L735.8 234.1 L738.4 234.9 L741.0 235.7 L743.7 236.6 L746.3 237.4 L748.9 238.3 L751.5 239.1 L754.2 240.0 L756.8 240.9 L759.4 241.8 L762.0 242.7 L764.6 243.7 L767.2 244.6 L769.8 245.6 L772.4 246.6 L775.0 247.5 L777.6 248.6 L780.5 249.7" stroke="#ffffff" stroke-width="4.0" opacity="0.08" filter="url(#b2)" clip-path="url(#sc2)"/>
<path d="M660.2 230.3 L662.5 230.8 L664.8 231.3 L667.2 231.8 L669.5 232.3 L671.8 232.8 L674.1 233.3 L676.4 233.9 L678.7 234.4 L681.0 235.0 L683.3 235.6 L685.6 236.1 L687.9 236.7 L690.2 237.3 L692.5 237.9 L694.7 238.6 L697.0 239.2 L699.3 239.8 L701.6 240.5 L703.9 241.2 L708.3 242.5 L710.5 243.2 L712.8 243.9 L715.1 244.6 L717.3 245.3 L719.6 246.1 L721.9 246.8 L724.1 247.6 L726.4 248.4 L728.6 249.2 L730.8 250.0 L733.1 250.8 L735.3 251.6 L737.6 252.5 L739.8 253.3 L742.0 254.2 L744.3 255.1 L746.5 255.9 L748.7 256.8 L753.0 258.6" stroke="#000020" stroke-width="3.0" opacity="0.20" filter="url(#b2)" clip-path="url(#sc2)"/>
<path d="M219.8 252.2 L222.3 251.2 L224.9 250.2 L227.5 249.2 L230.1 248.2 L232.7 247.3 L235.3 246.4 L237.8 245.4 L240.4 244.5 L243.0 243.6 L245.7 242.7 L248.3 241.9 L250.9 241.0 L253.5 240.1 L256.1 239.3 L258.7 238.5 L261.4 237.7 L264.0 236.9 L266.6 236.1 L269.2 235.3 L271.9 234.5 L274.5 233.8 L277.2 233.1 L279.8 232.3 L282.5 231.6 L285.1 230.9 L287.8 230.2 L290.4 229.5 L293.1 228.8 L295.8 228.2 L298.4 227.5 L301.1 226.9 L303.8 226.3 L306.4 225.7 L309.1 225.0 L311.8 224.4 L314.5 223.9 L317.2 223.3 L319.9 222.7 L322.5 222.2 L325.2 221.6 L327.9 221.1" stroke="#ffffff" stroke-width="4.0" opacity="0.08" filter="url(#b2)" clip-path="url(#sc14)"/>
<path d="M248.2 258.6 L250.4 257.7 L252.6 256.8 L254.8 255.9 L257.0 255.1 L259.2 254.3 L261.4 253.4 L263.7 252.6 L265.9 251.8 L268.1 251.0 L270.3 250.2 L272.6 249.4 L274.8 248.7 L277.1 247.9 L279.3 247.2 L281.6 246.5 L283.8 245.7 L286.1 245.0 L288.3 244.3 L290.6 243.7 L292.9 243.0 L295.1 242.3 L297.4 241.7 L299.7 241.0 L302.0 240.4 L304.3 239.8 L306.5 239.1 L308.8 238.5 L311.1 237.9 L313.4 237.4 L315.7 236.8 L318.0 236.2 L320.3 235.7 L322.6 235.1 L324.9 234.6 L327.2 234.1 L329.6 233.6 L331.9 233.1 L334.2 232.6 L336.5 232.1 L338.8 231.6 L341.2 231.1" stroke="#000020" stroke-width="3.0" opacity="0.10" filter="url(#b2)" clip-path="url(#sc14)"/>
<path d="M780.5 249.7 L783.1 250.7 L785.7 251.8 L788.2 252.9 L790.8 253.9 L793.4 255.0 L795.9 256.1 L798.5 257.3 L801.0 258.4 L803.5 259.6 L806.1 260.7 L808.6 261.9 L811.1 263.1 L813.6 264.3 L816.1 265.6 L818.6 266.8 L821.0 268.1 L823.5 269.4 L825.9 270.7 L828.4 272.1 L830.8 273.4 L833.2 274.8 L835.6 276.2 L838.0 277.6 L840.4 279.0 L842.7 280.5 L845.1 281.9 L847.4 283.4 L849.7 285.0 L852.0 286.5 L854.3 288.0 L856.5 289.6 L858.8 291.2 L861.0 292.8 L863.5 294.7" stroke="#ffffff" stroke-width="4.0" opacity="0.08" filter="url(#b2)" clip-path="url(#sc3)"/>
<path d="M753.0 258.6 L755.2 259.6 L757.4 260.5 L759.6 261.5 L761.8 262.5 L764.0 263.5 L766.2 264.5 L768.3 265.5 L770.5 266.5 L772.7 267.6 L774.8 268.7 L777.0 269.8 L779.1 270.9 L781.2 272.0 L783.4 273.1 L785.5 274.3 L787.6 275.4 L789.7 276.6 L791.7 277.8 L793.8 279.0 L795.9 280.3 L797.9 281.5 L800.0 282.8 L802.0 284.1 L804.0 285.4 L806.1 286.7 L808.0 288.0 L810.0 289.4 L812.0 290.8 L814.0 292.2 L815.9 293.6 L817.8 295.0 L819.8 296.5 L821.7 298.0 L825.3 300.9" stroke="#000020" stroke-width="3.0" opacity="0.20" filter="url(#b2)" clip-path="url(#sc3)"/>
<path d="M135.2 295.6 L137.5 294.0 L139.8 292.4 L142.1 290.9 L144.4 289.4 L146.8 287.9 L149.1 286.4 L151.5 285.0 L153.9 283.6 L156.3 282.2 L158.8 280.8 L161.2 279.4 L163.7 278.1 L166.1 276.8 L168.6 275.5 L171.1 274.2 L173.5 272.9 L176.4 271.5 L178.9 270.2 L181.4 269.0 L183.9 267.8 L186.4 266.6 L188.9 265.4 L191.4 264.2 L193.9 263.1 L196.5 261.9 L199.0 260.8 L201.6 259.7 L204.1 258.6 L206.6 257.5 L209.2 256.5 L211.8 255.4 L214.3 254.4 L216.9 253.3 L219.8 252.2" stroke="#ffffff" stroke-width="4.0" opacity="0.08" filter="url(#b2)" clip-path="url(#sc13)"/>
<path d="M173.0 299.7 L174.9 298.2 L176.9 296.7 L178.8 295.3 L180.8 293.9 L182.7 292.6 L184.7 291.2 L186.7 289.9 L188.8 288.6 L190.8 287.3 L192.8 286.0 L194.9 284.8 L197.0 283.6 L199.0 282.4 L201.1 281.2 L203.2 280.0 L205.3 278.8 L209.4 276.6 L211.6 275.5 L213.7 274.4 L215.8 273.3 L217.9 272.3 L220.1 271.2 L222.2 270.1 L224.4 269.1 L226.5 268.1 L228.7 267.1 L230.9 266.1 L233.0 265.1 L235.2 264.1 L237.4 263.2 L239.5 262.2 L241.7 261.3 L243.9 260.3 L248.2 258.6" stroke="#000020" stroke-width="3.0" opacity="0.10" filter="url(#b2)" clip-path="url(#sc13)"/>
<path d="M455.0 205.8 L461.3 217.0" stroke="#ff8a96" stroke-width="1.6" opacity="0.24" filter="url(#b1)"/>
<path d="M458.1 205.6 L463.7 216.9" stroke="#a00018" stroke-width="2.0" opacity="0.11" filter="url(#b1)"/>
<path d="M475.8 208.7 L477.7 215.6" stroke="#ff8a96" stroke-width="2.0" opacity="0.39" filter="url(#b1)"/>
<path d="M473.1 208.8 L473.3 215.7" stroke="#a00018" stroke-width="2.6" opacity="0.11" filter="url(#b1)"/>
<path d="M491.4 204.1 L492.7 216.8" stroke="#ff8a96" stroke-width="1.6" opacity="0.24" filter="url(#b1)"/>
<path d="M488.6 204.2 L490.3 216.8" stroke="#a00018" stroke-width="1.7" opacity="0.17" filter="url(#b1)"/>
<path d="M519.2 209.3 L521.2 217.1" stroke="#ff8a96" stroke-width="1.7" opacity="0.26" filter="url(#b1)"/>
<path d="M518.2 209.3 L521.1 217.1" stroke="#a00018" stroke-width="1.4" opacity="0.16" filter="url(#b1)"/>
<path d="M536.1 205.2 L533.8 209.9" stroke="#ff8a96" stroke-width="1.7" opacity="0.24" filter="url(#b1)"/>
<path d="M533.3 205.2 L532.3 209.9" stroke="#a00018" stroke-width="2.3" opacity="0.14" filter="url(#b1)"/>
<path d="M575.4 205.8 L567.0 217.2" stroke="#6aa6ff" stroke-width="1.4" opacity="0.25" filter="url(#b1)"/>
<path d="M578.1 206.0 L569.4 217.3" stroke="#0a3fa8" stroke-width="1.6" opacity="0.16" filter="url(#b1)"/>
<path d="M599.0 209.6 L597.4 214.8" stroke="#6aa6ff" stroke-width="1.1" opacity="0.36" filter="url(#b1)"/>
<path d="M596.3 209.3 L596.1 214.7" stroke="#0a3fa8" stroke-width="1.4" opacity="0.17" filter="url(#b1)"/>
<path d="M618.5 214.7 L614.2 222.3" stroke="#6aa6ff" stroke-width="1.2" opacity="0.40" filter="url(#b1)"/>
<path d="M622.7 215.3 L618.7 222.9" stroke="#0a3fa8" stroke-width="1.1" opacity="0.14" filter="url(#b1)"/>
<path d="M630.8 214.3 L628.0 219.5" stroke="#6aa6ff" stroke-width="1.1" opacity="0.23" filter="url(#b1)"/>
<path d="M628.1 214.0 L626.5 219.3" stroke="#0a3fa8" stroke-width="1.1" opacity="0.16" filter="url(#b1)"/>
<path d="M662.3 215.1 L658.7 222.7" stroke="#6aa6ff" stroke-width="2.0" opacity="0.33" filter="url(#b1)"/>
<path d="M665.0 215.6 L661.2 223.2" stroke="#0a3fa8" stroke-width="2.6" opacity="0.14" filter="url(#b1)"/>
<path d="M790.3 252.2 L761.7 262.5" stroke="#ff8a96" stroke-width="1.3" opacity="0.23" filter="url(#b1)"/>
<path d="M787.9 251.2 L759.5 261.5" stroke="#a00018" stroke-width="1.2" opacity="0.11" filter="url(#b1)"/>
<path d="M815.8 262.0 L786.8 272.3" stroke="#ff8a96" stroke-width="2.4" opacity="0.40" filter="url(#b1)"/>
<path d="M815.8 262.0 L786.5 272.1" stroke="#a00018" stroke-width="3.1" opacity="0.23" filter="url(#b1)"/>
<path d="M818.1 268.8 L807.5 273.7" stroke="#ff8a96" stroke-width="1.5" opacity="0.25" filter="url(#b1)"/>
<path d="M820.6 270.0 L809.8 275.0" stroke="#a00018" stroke-width="2.0" opacity="0.20" filter="url(#b1)"/>
<path d="M834.8 280.5 L815.6 285.1" stroke="#ff8a96" stroke-width="1.6" opacity="0.32" filter="url(#b1)"/>
<path d="M832.5 279.0 L814.9 284.7" stroke="#a00018" stroke-width="2.0" opacity="0.18" filter="url(#b1)"/>
<path d="M848.3 285.5 L832.7 290.4" stroke="#ff8a96" stroke-width="1.4" opacity="0.38" filter="url(#b1)"/>
<path d="M850.6 287.0 L834.8 291.8" stroke="#a00018" stroke-width="1.6" opacity="0.23" filter="url(#b1)"/>
<path d="M136.9 292.1 L179.4 295.4" stroke="#ff8a8a" stroke-width="1.7" opacity="0.38" filter="url(#b1)"/>
<path d="M139.3 290.6 L181.4 294.0" stroke="#a00010" stroke-width="2.0" opacity="0.16" filter="url(#b1)"/>
<path d="M158.2 280.5 L183.9 282.0" stroke="#ff8a8a" stroke-width="1.7" opacity="0.40" filter="url(#b1)"/>
<path d="M158.0 280.7 L183.9 282.0" stroke="#a00010" stroke-width="2.0" opacity="0.14" filter="url(#b1)"/>
<path d="M169.8 278.7 L185.5 279.1" stroke="#ff8a8a" stroke-width="2.7" opacity="0.30" filter="url(#b1)"/>
<path d="M172.2 277.4 L187.7 277.9" stroke="#a00010" stroke-width="2.3" opacity="0.20" filter="url(#b1)"/>
<path d="M183.9 266.1 L222.0 268.8" stroke="#ff8a8a" stroke-width="2.5" opacity="0.32" filter="url(#b1)"/>
<path d="M183.9 266.1 L220.1 269.7" stroke="#a00010" stroke-width="3.0" opacity="0.17" filter="url(#b1)"/>
<path d="M191.7 262.6 L214.9 265.7" stroke="#ff8a8a" stroke-width="1.4" opacity="0.24" filter="url(#b1)"/>
<path d="M191.8 262.5 L216.2 265.1" stroke="#a00010" stroke-width="1.6" opacity="0.11" filter="url(#b1)"/>
<path d="M206.8 255.8 L239.9 261.0" stroke="#ff8a8a" stroke-width="2.0" opacity="0.35" filter="url(#b1)"/>
<path d="M204.2 256.9 L239.9 261.0" stroke="#a00010" stroke-width="2.1" opacity="0.17" filter="url(#b1)"/>
<path d="M244.0 247.1 L262.0 247.7" stroke="#6ab0ff" stroke-width="1.2" opacity="0.42" filter="url(#b1)"/>
<path d="M241.5 248.0 L259.7 248.5" stroke="#0a3fa8" stroke-width="1.7" opacity="0.14" filter="url(#b1)"/>
<path d="M242.7 241.8 L270.5 248.8" stroke="#6ab0ff" stroke-width="2.7" opacity="0.42" filter="url(#b1)"/>
<path d="M245.4 241.0 L272.8 248.0" stroke="#0a3fa8" stroke-width="3.7" opacity="0.18" filter="url(#b1)"/>
<path d="M263.1 238.3 L277.0 240.0" stroke="#6ab0ff" stroke-width="1.8" opacity="0.34" filter="url(#b1)"/>
<path d="M265.7 237.5 L279.4 239.3" stroke="#0a3fa8" stroke-width="2.4" opacity="0.25" filter="url(#b1)"/>
<path d="M279.6 230.3 L302.3 238.8" stroke="#6ab0ff" stroke-width="2.9" opacity="0.37" filter="url(#b1)"/>
<path d="M276.9 231.0 L299.9 239.5" stroke="#0a3fa8" stroke-width="3.2" opacity="0.23" filter="url(#b1)"/>
<path d="M291.1 227.8 L305.5 231.3" stroke="#6ab0ff" stroke-width="2.2" opacity="0.30" filter="url(#b1)"/>
<path d="M288.4 228.5 L305.5 231.3" stroke="#0a3fa8" stroke-width="3.0" opacity="0.15" filter="url(#b1)"/>
<path d="M316.2 227.2 L328.3 230.7" stroke="#6ab0ff" stroke-width="1.8" opacity="0.31" filter="url(#b1)"/>
<path d="M313.6 227.8 L325.9 231.2" stroke="#0a3fa8" stroke-width="2.4" opacity="0.14" filter="url(#b1)"/>
<path d="M691.9 223.8 L684.2 229.6" stroke="#ffe680" stroke-width="1.7" opacity="0.24" filter="url(#b1)"/>
<path d="M691.4 223.7 L683.2 229.4" stroke="#d89000" stroke-width="1.6" opacity="0.13" filter="url(#b1)"/>
<path d="M722.3 228.4 L703.9 241.1" stroke="#ffe680" stroke-width="1.3" opacity="0.33" filter="url(#b1)"/>
<path d="M719.6 227.7 L701.6 240.4" stroke="#d89000" stroke-width="1.5" opacity="0.17" filter="url(#b1)"/>
<path d="M775.6 245.7 L748.0 255.3" stroke="#ffe680" stroke-width="1.5" opacity="0.28" filter="url(#b1)"/>
<path d="M773.0 244.7 L745.7 254.4" stroke="#d89000" stroke-width="1.5" opacity="0.10" filter="url(#b1)"/>
<path d="M349.4 216.7 L363.8 226.1" stroke="#ffe680" stroke-width="1.7" opacity="0.30" filter="url(#b1)"/>
<path d="M346.7 217.2 L361.1 226.5" stroke="#d89000" stroke-width="1.6" opacity="0.18" filter="url(#b1)"/>
<path d="M382.4 211.8 L394.7 222.4" stroke="#ffe680" stroke-width="1.7" opacity="0.22" filter="url(#b1)"/>
<path d="M379.6 212.1 L392.3 222.7" stroke="#d89000" stroke-width="2.2" opacity="0.12" filter="url(#b1)"/>
<path d="M429.9 207.1 L437.4 218.7" stroke="#ffe680" stroke-width="1.1" opacity="0.31" filter="url(#b1)"/>
<path d="M427.2 207.4 L435.2 218.8" stroke="#d89000" stroke-width="1.0" opacity="0.19" filter="url(#b1)"/>
<path d="M870.9 297.6 L827.4 300.6" stroke="#a8ceff" stroke-width="3.5" opacity="0.45" filter="url(#b1)"/>
<path d="M868.7 295.9 L827.4 300.6" stroke="#0f4fb8" stroke-width="3.3" opacity="0.20" filter="url(#b1)"/>
<path d="M882.0 304.4 L833.0 307.3" stroke="#a8ceff" stroke-width="2.1" opacity="0.26" filter="url(#b1)"/>
<path d="M884.0 306.1 L834.7 308.8" stroke="#0f4fb8" stroke-width="1.7" opacity="0.27" filter="url(#b1)"/>
<path d="M869.1 313.5 L846.5 313.4" stroke="#a8ceff" stroke-width="3.5" opacity="0.28" filter="url(#b1)"/>
<path d="M869.1 313.5 L844.7 311.6" stroke="#0f4fb8" stroke-width="4.0" opacity="0.27" filter="url(#b1)"/>
<path d="M897.0 319.8 L865.1 317.7" stroke="#a8ceff" stroke-width="3.5" opacity="0.30" filter="url(#b1)"/>
<path d="M896.9 319.7 L865.1 317.7" stroke="#0f4fb8" stroke-width="3.7" opacity="0.37" filter="url(#b1)"/>
<path d="M899.4 325.9 L852.0 324.4" stroke="#a8ceff" stroke-width="2.6" opacity="0.35" filter="url(#b1)"/>
<path d="M901.2 328.0 L853.4 326.3" stroke="#0f4fb8" stroke-width="2.1" opacity="0.22" filter="url(#b1)"/>
<path d="M910.1 336.8 L858.4 334.3" stroke="#a8ceff" stroke-width="3.4" opacity="0.31" filter="url(#b1)"/>
<path d="M911.8 339.1 L859.6 336.3" stroke="#0f4fb8" stroke-width="4.0" opacity="0.24" filter="url(#b1)"/>
<path d="M892.1 341.0 L867.0 338.4" stroke="#a8ceff" stroke-width="2.3" opacity="0.28" filter="url(#b1)"/>
<path d="M890.7 338.8 L865.8 336.4" stroke="#0f4fb8" stroke-width="2.0" opacity="0.29" filter="url(#b1)"/>
<path d="M907.8 349.9 L875.9 344.9" stroke="#a8ceff" stroke-width="3.8" opacity="0.29" filter="url(#b1)"/>
<path d="M906.4 347.5 L874.8 342.8" stroke="#0f4fb8" stroke-width="4.2" opacity="0.28" filter="url(#b1)"/>
<path d="M929.7 368.5 L889.7 360.0" stroke="#c0e0ff" stroke-width="1.8" opacity="0.55" filter="url(#b1)"/>
<path d="M930.6 371.1 L890.4 362.4" stroke="#1752b8" stroke-width="1.5" opacity="0.43" filter="url(#b1)"/>
<path d="M929.9 368.5 L868.3 360.5" stroke="#c0e0ff" stroke-width="2.6" opacity="0.62" filter="url(#b1)"/>
<path d="M929.9 368.5 L867.9 358.4" stroke="#1752b8" stroke-width="2.5" opacity="0.41" filter="url(#b1)"/>
<path d="M927.9 378.3 L867.4 369.8" stroke="#c0e0ff" stroke-width="2.9" opacity="0.56" filter="url(#b1)"/>
<path d="M927.9 378.6 L867.4 369.8" stroke="#1752b8" stroke-width="4.0" opacity="0.44" filter="url(#b1)"/>
<path d="M930.2 381.5 L873.0 372.7" stroke="#c0e0ff" stroke-width="3.2" opacity="0.41" filter="url(#b1)"/>
<path d="M930.2 381.5 L872.9 370.7" stroke="#1752b8" stroke-width="4.2" opacity="0.48" filter="url(#b1)"/>
<path d="M907.4 381.6 L877.9 376.3" stroke="#c0e0ff" stroke-width="2.0" opacity="0.52" filter="url(#b1)"/>
<path d="M907.5 384.2 L877.8 378.2" stroke="#1752b8" stroke-width="1.9" opacity="0.53" filter="url(#b1)"/>
<path d="M913.9 389.5 L881.8 379.3" stroke="#c0e0ff" stroke-width="4.0" opacity="0.46" filter="url(#b1)"/>
<path d="M913.7 392.2 L881.7 381.1" stroke="#1752b8" stroke-width="3.3" opacity="0.60" filter="url(#b1)"/>
<path d="M934.3 395.6 L903.3 386.3" stroke="#c0e0ff" stroke-width="1.6" opacity="0.46" filter="url(#b1)"/>
<path d="M934.3 395.5 L903.4 385.2" stroke="#1752b8" stroke-width="1.6" opacity="0.41" filter="url(#b1)"/>
<path d="M929.3 400.2 L867.7 384.6" stroke="#c0e0ff" stroke-width="3.2" opacity="0.37" filter="url(#b1)"/>
<path d="M929.3 400.5 L867.4 386.8" stroke="#1752b8" stroke-width="2.9" opacity="0.53" filter="url(#b1)"/>
<path d="M911.1 402.4 L886.8 392.8" stroke="#c0e0ff" stroke-width="3.2" opacity="0.61" filter="url(#b1)"/>
<path d="M910.9 403.2 L886.3 395.3" stroke="#1752b8" stroke-width="3.8" opacity="0.46" filter="url(#b1)"/>
<path d="M927.7 413.8 L862.4 395.9" stroke="#c0e0ff" stroke-width="2.8" opacity="0.54" filter="url(#b1)"/>
<path d="M927.6 414.0 L862.4 396.0" stroke="#1752b8" stroke-width="3.2" opacity="0.53" filter="url(#b1)"/>
<path d="M926.9 419.3 L901.9 409.7" stroke="#c0e0ff" stroke-width="4.0" opacity="0.51" filter="url(#b1)"/>
<path d="M926.8 419.5 L901.4 411.3" stroke="#1752b8" stroke-width="3.6" opacity="0.43" filter="url(#b1)"/>
<path d="M922.7 418.7 L893.9 411.0" stroke="#c0e0ff" stroke-width="3.8" opacity="0.60" filter="url(#b1)"/>
<path d="M922.8 418.4 L894.4 409.8" stroke="#1752b8" stroke-width="5.0" opacity="0.54" filter="url(#b1)"/>
<path d="M922.4 426.7 L865.4 410.8" stroke="#c0e0ff" stroke-width="2.5" opacity="0.43" filter="url(#b1)"/>
<path d="M923.6 424.2 L866.3 409.0" stroke="#1752b8" stroke-width="3.4" opacity="0.63" filter="url(#b1)"/>
<path d="M893.6 425.3 L867.3 414.0" stroke="#c0e0ff" stroke-width="1.9" opacity="0.43" filter="url(#b1)"/>
<path d="M892.3 427.6 L866.3 415.7" stroke="#1752b8" stroke-width="1.8" opacity="0.58" filter="url(#b1)"/>
<path d="M919.8 434.6 L856.1 416.1" stroke="#c0e0ff" stroke-width="2.6" opacity="0.46" filter="url(#b1)"/>
<path d="M918.3 437.0 L854.8 418.1" stroke="#1752b8" stroke-width="3.3" opacity="0.35" filter="url(#b1)"/>
<path d="M822.9 301.3 L824.8 302.8 L826.6 304.4 L828.4 305.9 L830.2 307.5 L832.0 309.2 L833.7 310.8 L835.4 312.5 L837.1 314.1 L838.7 315.9 L840.3 317.6 L841.9 319.3 L843.4 321.1 L844.9 322.9 L846.4 324.7 L847.8 326.6 L849.2 328.5 L850.5 330.4 L851.7 332.3 L852.9 334.3 L854.1 336.3 L855.2 338.3 L856.2 340.3 L857.2 342.4 L858.1 344.5 L858.9 346.6 L859.7 348.7 L860.4 350.9 L861.0 353.1 L861.6 355.4" stroke="#0a2a80" stroke-width="3" opacity="0.60" clip-path="url(#sc4)"/>
<path d="M861.6 355.4 L862.0 357.6 L862.4 359.9 L862.7 362.3 L863.0 364.6 L863.1 367.0 L863.2 369.3 L863.3 371.7 L863.2 374.1 L863.1 376.5 L862.9 378.9 L862.6 381.3 L862.3 383.7 L861.9 386.1 L861.4 388.4 L860.9 390.8 L860.3 393.1 L859.6 395.4 L858.9 397.7 L858.1 400.0 L857.2 402.2 L856.3 404.4 L855.3 406.6 L854.3 408.7 L853.1 410.8 L852.0 412.8 L850.8 414.8 L849.5 416.7 L848.2 418.6 L846.8 420.5 L845.4 422.4" stroke="#0a2a80" stroke-width="3" opacity="0.20" clip-path="url(#sc5)"/>
<path d="M856.6 425.5 L855.2 427.4 L853.6 429.3 L852.0 431.1 L850.4 432.9 L848.7 434.6 L847.0 436.4 L845.3 438.0 L843.5 439.7 L841.7 441.3 L839.9 443.0 L838.0 444.5 L836.1 446.1 L834.2 447.6 L832.3 449.1 L830.3 450.6 L828.3 452.0 L826.3 453.4 L824.3 454.8 L822.3 456.2 L820.2 457.6 L818.2 458.9 L816.1 460.2 L814.0 461.5 L812.0 462.8 L809.9 464.1 L807.8 465.3 L805.6 466.6 L803.5 467.8 L801.4 469.0 L799.3 470.2 L797.1 471.3 L795.0 472.5 L792.8 473.6 L790.7 474.7 L788.5 475.8 L786.3 476.9 L784.2 478.0 L782.0 479.0 L779.8 480.1 L777.6 481.1 L775.4 482.1 L773.2 483.1 L771.0 484.1 L768.7 485.1 L766.5 486.0 L762.4 487.7" stroke="#f08a00" stroke-width="16.0" opacity="0.26" filter="url(#b4)" clip-path="url(#sc6)"/>
<path d="M909.3 440.2 L907.7 442.5 L906.1 444.8 L904.4 447.0 L902.7 449.2 L900.9 451.4 L899.1 453.6 L897.2 455.7 L895.3 457.8 L893.4 459.8 L891.4 461.8 L889.5 463.8 L887.4 465.7 L885.4 467.6 L883.3 469.5 L881.3 471.3 L879.1 473.1 L877.0 474.9 L874.8 476.6 L872.7 478.3 L870.5 479.9 L868.2 481.6 L866.0 483.2 L863.7 484.8 L861.5 486.3 L858.9 488.0" stroke="#f08a00" stroke-width="12.0" opacity="0.20" filter="url(#b4)" clip-path="url(#sc6)"/>
<path d="M848.0 483.1 L845.7 484.5 L843.4 486.0 L841.1 487.3 L838.8 488.7 L836.5 490.1 L834.1 491.4 L831.8 492.7 L829.4 494.0 L827.1 495.2 L824.7 496.5 L822.3 497.7 L819.9 498.9 L817.5 500.1 L815.1 501.2 L812.6 502.4 L810.2 503.5 L807.7 504.7 L805.3 505.8 L802.8 506.8 L800.4 507.9 L797.9 509.0" stroke="#f08a00" stroke-width="14.0" opacity="0.14" filter="url(#b4)" clip-path="url(#sc6)"/>
<path d="M902.0 454.6 L842.8 439.5" stroke="#fff6b0" stroke-width="3.0" opacity="0.41" filter="url(#b1)"/>
<path d="M903.8 452.4 L844.6 437.8" stroke="#d88a00" stroke-width="2.9" opacity="0.15" filter="url(#b1)"/>
<path d="M901.5 462.8 L827.5 442.8" stroke="#fff6b0" stroke-width="1.6" opacity="0.44" filter="url(#b1)"/>
<path d="M899.6 464.8 L825.7 444.2" stroke="#d88a00" stroke-width="1.3" opacity="0.31" filter="url(#b1)"/>
<path d="M888.0 471.3 L819.9 448.5" stroke="#fff6b0" stroke-width="4.2" opacity="0.36" filter="url(#b1)"/>
<path d="M885.9 473.2 L817.9 449.9" stroke="#d88a00" stroke-width="4.1" opacity="0.17" filter="url(#b1)"/>
<path d="M879.5 478.8 L814.3 457.2" stroke="#fff6b0" stroke-width="2.1" opacity="0.30" filter="url(#b1)"/>
<path d="M877.3 480.5 L812.3 458.5" stroke="#d88a00" stroke-width="2.4" opacity="0.27" filter="url(#b1)"/>
<path d="M858.9 477.9 L815.4 463.9" stroke="#fff6b0" stroke-width="3.6" opacity="0.28" filter="url(#b1)"/>
<path d="M856.7 479.5 L813.3 465.2" stroke="#d88a00" stroke-width="4.8" opacity="0.24" filter="url(#b1)"/>
<path d="M844.5 485.8 L814.8 478.2" stroke="#fff6b0" stroke-width="3.2" opacity="0.35" filter="url(#b1)"/>
<path d="M848.4 483.3 L817.9 476.4" stroke="#d88a00" stroke-width="3.7" opacity="0.34" filter="url(#b1)"/>
<path d="M852.8 500.6 L789.7 471.6" stroke="#fff6b0" stroke-width="4.3" opacity="0.46" filter="url(#b1)"/>
<path d="M855.3 499.2 L791.8 470.5" stroke="#d88a00" stroke-width="5.9" opacity="0.26" filter="url(#b1)"/>
<path d="M831.2 510.1 L765.8 478.6" stroke="#fff6b0" stroke-width="2.2" opacity="0.27" filter="url(#b1)"/>
<path d="M828.6 511.3 L763.6 479.5" stroke="#d88a00" stroke-width="2.7" opacity="0.24" filter="url(#b1)"/>
<path d="M812.3 504.7 L774.7 490.4" stroke="#fff6b0" stroke-width="3.5" opacity="0.32" filter="url(#b1)"/>
<path d="M814.8 503.6 L777.0 489.4" stroke="#d88a00" stroke-width="4.6" opacity="0.24" filter="url(#b1)"/>
<path d="M852.2 492.2 L804.6 474.6" stroke="#fff8c8" stroke-width="7.0" opacity="0.45" filter="url(#b2)"/>
<path d="M796.1 526.2 L737.1 489.9" stroke="#ffd0d0" stroke-width="2.4" opacity="0.28" filter="url(#b1)"/>
<path d="M801.3 524.1 L741.5 488.3" stroke="#8a0010" stroke-width="2.3" opacity="0.29" filter="url(#b1)"/>
<path d="M773.3 516.5 L743.2 498.6" stroke="#ffd0d0" stroke-width="1.5" opacity="0.40" filter="url(#b1)"/>
<path d="M768.3 518.3 L740.3 499.6" stroke="#8a0010" stroke-width="1.7" opacity="0.30" filter="url(#b1)"/>
<path d="M753.3 526.2 L717.1 509.0" stroke="#ffd0d0" stroke-width="1.3" opacity="0.44" filter="url(#b1)"/>
<path d="M758.4 524.5 L721.8 507.6" stroke="#8a0010" stroke-width="1.3" opacity="0.28" filter="url(#b1)"/>
<path d="M744.4 527.7 L709.6 508.1" stroke="#ffd0d0" stroke-width="3.0" opacity="0.51" filter="url(#b1)"/>
<path d="M740.0 529.0 L704.9 509.3" stroke="#8a0010" stroke-width="2.9" opacity="0.18" filter="url(#b1)"/>
<path d="M735.8 543.5 L691.5 508.3" stroke="#ffd0d0" stroke-width="2.3" opacity="0.49" filter="url(#b1)"/>
<path d="M732.9 544.3 L688.8 509.0" stroke="#8a0010" stroke-width="3.2" opacity="0.26" filter="url(#b1)"/>
<path d="M711.6 537.5 L686.0 522.5" stroke="#ffd0d0" stroke-width="2.4" opacity="0.37" filter="url(#b1)"/>
<path d="M707.1 538.6 L683.6 523.0" stroke="#8a0010" stroke-width="2.6" opacity="0.27" filter="url(#b1)"/>
<path d="M700.3 541.5 L672.8 524.1" stroke="#ffd0d0" stroke-width="1.6" opacity="0.36" filter="url(#b1)"/>
<path d="M705.6 540.3 L677.7 523.1" stroke="#8a0010" stroke-width="2.0" opacity="0.22" filter="url(#b1)"/>
<path d="M687.8 555.7 L666.5 538.2" stroke="#ffd0d0" stroke-width="1.9" opacity="0.40" filter="url(#b1)"/>
<path d="M682.3 556.8 L661.4 539.1" stroke="#8a0010" stroke-width="2.4" opacity="0.19" filter="url(#b1)"/>
<path d="M665.8 544.5 L648.1 529.9" stroke="#ffd0d0" stroke-width="2.6" opacity="0.52" filter="url(#b1)"/>
<path d="M671.1 543.5 L651.5 529.3" stroke="#8a0010" stroke-width="2.8" opacity="0.24" filter="url(#b1)"/>
<path d="M650.3 555.3 L629.7 531.2" stroke="#ffd0d0" stroke-width="2.5" opacity="0.37" filter="url(#b1)"/>
<path d="M655.7 554.5 L632.2 530.9" stroke="#8a0010" stroke-width="3.2" opacity="0.18" filter="url(#b1)"/>
<path d="M640.9 550.5 L614.9 529.4" stroke="#ffd0d0" stroke-width="1.4" opacity="0.50" filter="url(#b1)"/>
<path d="M645.5 549.9 L619.8 528.7" stroke="#8a0010" stroke-width="1.2" opacity="0.29" filter="url(#b1)"/>
<path d="M631.1 566.8 L591.3 520.9" stroke="#ffd0d0" stroke-width="1.4" opacity="0.30" filter="url(#b1)"/>
<path d="M634.0 566.5 L596.1 520.4" stroke="#8a0010" stroke-width="1.7" opacity="0.24" filter="url(#b1)"/>
<path d="M593.1 566.8 L569.7 527.2" stroke="#5aa0ff" stroke-width="6.2" opacity="0.13" filter="url(#b2)"/>
<path d="M590.3 567.0 L566.9 527.4" stroke="#0846b0" stroke-width="7.0" opacity="0.09" filter="url(#b2)"/>
<path d="M559.9 569.4 L542.4 529.0" stroke="#5aa0ff" stroke-width="7.7" opacity="0.16" filter="url(#b2)"/>
<path d="M565.4 569.1 L545.2 528.9" stroke="#0846b0" stroke-width="8.6" opacity="0.12" filter="url(#b2)"/>
<path d="M535.0 570.5 L527.2 527.1" stroke="#5aa0ff" stroke-width="4.8" opacity="0.21" filter="url(#b2)"/>
<path d="M532.2 570.6 L524.8 527.2" stroke="#0846b0" stroke-width="5.0" opacity="0.09" filter="url(#b2)"/>
<path d="M515.5 569.4 L512.9 527.8" stroke="#5aa0ff" stroke-width="5.9" opacity="0.22" filter="url(#b2)"/>
<path d="M512.4 569.4 L510.2 527.9" stroke="#0846b0" stroke-width="6.5" opacity="0.12" filter="url(#b2)"/>
<path d="M495.2 556.0 L497.1 536.8" stroke="#5aa0ff" stroke-width="5.0" opacity="0.23" filter="url(#b2)"/>
<path d="M492.5 556.0 L493.9 536.7" stroke="#0846b0" stroke-width="6.9" opacity="0.11" filter="url(#b2)"/>
<path d="M468.4 569.3 L473.8 530.2" stroke="#5aa0ff" stroke-width="3.9" opacity="0.20" filter="url(#b2)"/>
<path d="M473.7 569.5 L476.6 530.3" stroke="#0846b0" stroke-width="3.5" opacity="0.16" filter="url(#b2)"/>
<path d="M450.2 559.7 L453.4 536.4" stroke="#5aa0ff" stroke-width="5.3" opacity="0.16" filter="url(#b2)"/>
<path d="M445.4 559.4 L448.5 536.1" stroke="#0846b0" stroke-width="5.7" opacity="0.11" filter="url(#b2)"/>
<path d="M424.3 566.2 L438.3 523.8" stroke="#5aa0ff" stroke-width="4.6" opacity="0.12" filter="url(#b2)"/>
<path d="M429.9 566.6 L443.0 524.2" stroke="#0846b0" stroke-width="4.2" opacity="0.13" filter="url(#b2)"/>
<path d="M398.4 566.8 L419.0 522.7" stroke="#5aa0ff" stroke-width="7.1" opacity="0.21" filter="url(#b2)"/>
<path d="M401.2 567.1 L421.5 522.9" stroke="#0846b0" stroke-width="9.6" opacity="0.13" filter="url(#b2)"/>
<path d="M387.0 542.1 L384.5 541.8 L381.9 541.4 L379.4 541.1 L376.8 540.7 L374.2 540.3 L371.7 539.9 L369.1 539.5 L366.6 539.1 L364.0 538.7 L361.5 538.3 L358.9 537.9 L356.4 537.4 L353.8 537.0 L351.3 536.5 L348.7 536.1 L346.2 535.6 L343.6 535.1 L341.1 534.6 L338.6 534.1 L336.0 533.6 L333.5 533.1 L331.0 532.6 L328.4 532.1 L325.9 531.5 L323.4 531.0 L320.9 530.4 L318.3 529.8 L315.8 529.3 L313.3 528.7 L310.8 528.1 L308.3 527.5 L305.8 526.8 L303.2 526.2 L300.7 525.6 L298.2 524.9 L295.7 524.3 L293.2 523.6 L290.7 522.9 L288.2 522.3 L285.7 521.6 L283.2 520.9 L280.8 520.2 L278.3 519.4" stroke="#f5a800" stroke-width="22.0" opacity="0.10" filter="url(#b4)" clip-path="url(#sc9)"/>
<path d="M339.8 554.5 L356.0 533.4" stroke="#fff090" stroke-width="6.1" opacity="0.22" filter="url(#b2)"/>
<path d="M319.2 553.1 L343.2 512.1" stroke="#fff090" stroke-width="6.9" opacity="0.17" filter="url(#b2)"/>
<path d="M248.4 532.3 L277.4 498.8" stroke="#fff090" stroke-width="3.9" opacity="0.14" filter="url(#b2)"/>
<path d="M214.3 520.7 L252.0 487.5" stroke="#fff090" stroke-width="3.1" opacity="0.25" filter="url(#b2)"/>
<path d="M173.9 503.3 L215.4 473.0" stroke="#ff7a7a" stroke-width="4.5" opacity="0.20" filter="url(#b2)"/>
<path d="M171.1 502.0 L213.2 471.9" stroke="#90000c" stroke-width="4.7" opacity="0.13" filter="url(#b2)"/>
<path d="M162.7 499.0 L207.7 465.6" stroke="#ff7a7a" stroke-width="3.8" opacity="0.21" filter="url(#b2)"/>
<path d="M160.1 497.6 L205.6 464.5" stroke="#90000c" stroke-width="4.6" opacity="0.22" filter="url(#b2)"/>
<path d="M150.1 492.5 L194.3 461.6" stroke="#ff7a7a" stroke-width="3.0" opacity="0.25" filter="url(#b2)"/>
<path d="M152.4 493.8 L196.1 462.6" stroke="#90000c" stroke-width="3.1" opacity="0.14" filter="url(#b2)"/>
<path d="M129.7 478.4 L179.6 450.4" stroke="#ff7a7a" stroke-width="4.1" opacity="0.19" filter="url(#b2)"/>
<path d="M129.9 478.5 L179.8 450.6" stroke="#90000c" stroke-width="5.7" opacity="0.10" filter="url(#b2)"/>
<path d="M127.8 463.0 L150.3 447.9" stroke="#ff7a7a" stroke-width="3.3" opacity="0.27" filter="url(#b2)"/>
<path d="M126.2 461.7 L149.6 447.3" stroke="#90000c" stroke-width="3.0" opacity="0.13" filter="url(#b2)"/>
<path d="M101.3 460.8 L155.5 435.8" stroke="#ff7a7a" stroke-width="4.2" opacity="0.23" filter="url(#b2)"/>
<path d="M99.2 458.9 L153.9 434.5" stroke="#90000c" stroke-width="3.5" opacity="0.14" filter="url(#b2)"/>
<path d="M109.3 447.3 L138.5 432.5" stroke="#ff7a7a" stroke-width="3.4" opacity="0.23" filter="url(#b2)"/>
<path d="M111.2 449.2 L140.3 434.3" stroke="#90000c" stroke-width="3.2" opacity="0.19" filter="url(#b2)"/>
<path d="M94.7 428.0 L119.3 421.4" stroke="#5aa0ff" stroke-width="4.4" opacity="0.17" filter="url(#b2)"/>
<path d="M94.7 428.0 L120.8 423.5" stroke="#0846b0" stroke-width="3.9" opacity="0.18" filter="url(#b2)"/>
<path d="M79.6 410.5 L102.9 406.4" stroke="#5aa0ff" stroke-width="5.7" opacity="0.21" filter="url(#b2)"/>
<path d="M80.4 412.6 L103.3 407.6" stroke="#0846b0" stroke-width="7.7" opacity="0.13" filter="url(#b2)"/>
<path d="M67.8 396.2 L130.8 387.3" stroke="#5aa0ff" stroke-width="3.6" opacity="0.24" filter="url(#b2)"/>
<path d="M67.8 393.5 L130.4 385.0" stroke="#0846b0" stroke-width="3.4" opacity="0.13" filter="url(#b2)"/>
<path d="M69.5 379.9 L97.5 378.0" stroke="#5aa0ff" stroke-width="4.1" opacity="0.12" filter="url(#b2)"/>
<path d="M70.1 377.5 L97.5 376.9" stroke="#0846b0" stroke-width="4.2" opacity="0.11" filter="url(#b2)"/>
<path d="M74.0 364.2 L125.2 361.8" stroke="#5aa0ff" stroke-width="5.3" opacity="0.14" filter="url(#b2)"/>
<path d="M75.1 361.6 L125.6 359.8" stroke="#0846b0" stroke-width="4.9" opacity="0.09" filter="url(#b2)"/>
<path d="M102.1 343.9 L124.6 343.6" stroke="#fff090" stroke-width="4.0" opacity="0.17" filter="url(#b2)"/>
<path d="M102.1 343.9 L124.6 343.6" stroke="#e09a00" stroke-width="4.3" opacity="0.08" filter="url(#b2)"/>
<path d="M95.6 326.3 L144.4 327.0" stroke="#fff090" stroke-width="5.2" opacity="0.18" filter="url(#b2)"/>
<path d="M95.5 326.4 L143.1 328.8" stroke="#e09a00" stroke-width="6.6" opacity="0.11" filter="url(#b2)"/>
<path d="M120.8 303.4 L161.4 307.2" stroke="#fff090" stroke-width="5.3" opacity="0.23" filter="url(#b2)"/>
<path d="M122.8 301.8 L163.2 305.6" stroke="#e09a00" stroke-width="6.6" opacity="0.12" filter="url(#b2)"/>
<path d="M440.3 205.0 L447.5 219.0" stroke="#101030" stroke-width="1.2" opacity="0.45"/>
<path d="M559.3 203.6 L551.8 218.4" stroke="#101030" stroke-width="1.2" opacity="0.45"/>
<path d="M679.8 217.4 L659.2 231.0" stroke="#101030" stroke-width="1.2" opacity="0.45"/>
<path d="M785.7 248.0 L751.3 259.2" stroke="#101030" stroke-width="1.2" opacity="0.45"/>
<path d="M870.6 293.6 L822.9 301.3" stroke="#101030" stroke-width="1.2" opacity="0.45"/>
<path d="M929.8 361.0 L861.6 355.4" stroke="#101030" stroke-width="1.2" opacity="0.45"/>
<path d="M920.6 443.3 L845.4 422.4" stroke="#101030" stroke-width="1.2" opacity="0.45"/>
<path d="M817.3 520.6 L752.8 482.0" stroke="#101030" stroke-width="1.2" opacity="0.45"/>
<path d="M615.4 570.5 L585.3 519.2" stroke="#101030" stroke-width="1.2" opacity="0.45"/>
<path d="M375.0 566.7 L399.1 517.6" stroke="#101030" stroke-width="1.2" opacity="0.45"/>
<path d="M182.2 514.9 L237.8 475.0" stroke="#101030" stroke-width="1.2" opacity="0.45"/>
<path d="M77.7 438.2 L148.6 418.1" stroke="#101030" stroke-width="1.2" opacity="0.45"/>
<path d="M70.4 359.3 L134.7 356.8" stroke="#101030" stroke-width="1.2" opacity="0.45"/>
<path d="M128.1 294.8 L175.4 299.9" stroke="#101030" stroke-width="1.2" opacity="0.45"/>
<path d="M214.4 251.0 L250.0 259.0" stroke="#101030" stroke-width="1.2" opacity="0.45"/>
<path d="M325.5 219.2 L342.0 231.7" stroke="#101030" stroke-width="1.2" opacity="0.45"/>
<path d="M937.3 398.8 L937.0 401.6 L936.6 404.3 L936.1 407.0 L935.6 409.7 L934.9 412.4 L934.1 415.1 L933.3 417.8 L932.3 420.4 L931.3 423.1 L930.2 425.7 L929.1 428.3 L927.8 430.8 L926.5 433.4 L925.1 435.9 L923.7 438.4 L922.2 440.9 L920.6 443.3 L919.0 445.7 L917.3 448.1 L915.6 450.4 L913.9 452.8 L912.1 455.0 L910.2 457.3 L908.3 459.5 L906.4 461.7 L904.5 463.8 L902.5 465.9 L900.5 467.9 L898.4 469.9 L896.4 471.9 L894.3 473.8 L892.2 475.7 L890.0 477.6 L887.9 479.4 L885.7 481.2 L883.5 483.0 L881.2 484.7 L879.0 486.4 L876.7 488.1 L874.4 489.7 L872.1 491.3 L869.7 492.9 L867.4 494.5 L865.0 496.0 L862.6 497.5 L860.2 499.0 L857.7 500.4 L855.3 501.8 L852.8 503.2 L850.4 504.6 L847.9 505.9 L845.4 507.2 L842.9 508.5 L840.4 509.8 L837.8 511.1 L835.3 512.3 L832.7 513.6 L830.2 514.8 L827.6 516.0 L825.0 517.1 L822.4 518.3 L819.9 519.4 L817.3 520.6 L814.7 521.7 L812.1 522.8 L809.4 523.8 L806.8 524.9 L804.2 526.0 L801.6 527.0 L799.0 528.1 L796.3 529.1 L793.7 530.1 L791.1 531.1 L788.4 532.1 L785.8 533.0 L783.1 534.0 L780.5 534.9 L777.8 535.9 L775.1 536.8 L772.5 537.7 L769.8 538.6 L767.1 539.4 L764.5 540.3 L761.8 541.2 L759.1 542.0 L756.4 542.8 L753.7 543.7 L751.0 544.5 L748.3 545.3 L745.6 546.0 L742.9 546.8 L740.2 547.6 L737.5 548.3 L734.8 549.0 L732.0 549.8 L729.3 550.5 L726.6 551.2 L723.9 551.9 L721.1 552.5 L718.4 553.2 L715.6 553.9 L712.9 554.5 L710.2 555.1 L707.4 555.8 L704.7 556.4 L701.9 557.0 L699.2 557.6 L696.4 558.1 L693.6 558.7 L690.9 559.3 L688.1 559.8 L685.3 560.3 L682.6 560.9 L679.8 561.4 L677.0 561.9 L674.2 562.4 L671.5 562.9 L668.7 563.3 L665.9 563.8 L663.1 564.2 L660.3 564.7 L657.5 565.1 L654.7 565.5 L651.9 565.9 L649.1 566.4 L646.3 566.7 L643.5 567.1 L640.7 567.5 L637.9 567.9 L635.1 568.2 L632.3 568.6 L629.5 568.9 L626.7 569.2 L623.9 569.6 L621.1 569.9 L618.2 570.2 L615.4 570.5 L612.6 570.7 L609.8 571.0 L607.0 571.3 L604.1 571.5 L601.3 571.8 L598.5 572.0 L595.7 572.3 L592.8 572.5 L590.0 572.7 L587.2 572.9 L584.3 573.1 L581.5 573.3 L578.7 573.5 L575.8 573.6 L573.0 573.8 L570.2 574.0 L567.3 574.1 L564.5 574.3 L561.7 574.4 L558.8 574.5 L556.0 574.6 L553.2 574.7 L550.3 574.8 L547.5 574.9 L544.6 575.0 L541.8 575.1 L539.0 575.2 L536.1 575.3 L533.3 575.3 L530.5 575.4 L527.6 575.4 L524.8 575.5 L521.9 575.5 L519.1 575.5 L516.3 575.5 L513.4 575.5 L510.6 575.5 L507.7 575.5 L504.9 575.5 L502.1 575.5 L499.2 575.5 L496.4 575.5 L493.5 575.4 L490.7 575.4 L487.9 575.3 L485.0 575.3 L482.2 575.2 L479.4 575.1 L476.5 575.0 L473.7 574.9 L470.9 574.8 L468.0 574.7 L465.2 574.6 L462.4 574.5 L459.5 574.4 L456.7 574.2 L453.9 574.1 L451.0 573.9 L448.2 573.8 L445.4 573.6 L442.5 573.4 L439.7 573.2 L436.9 573.0 L434.1 572.8 L431.2 572.6 L428.4 572.4 L425.6 572.2 L422.8 571.9 L420.0 571.7 L417.1 571.4 L414.3 571.2 L411.5 570.9 L408.7 570.6 L405.9 570.4 L403.1 570.1 L400.3 569.8 L397.4 569.5 L394.6 569.1 L391.8 568.8 L389.0 568.5 L386.2 568.1 L383.4 567.8 L380.6 567.4 L377.8 567.0 L375.0 566.7 L372.2 566.3 L369.4 565.9 L366.6 565.5 L363.8 565.1 L361.0 564.6 L358.3 564.2 L355.5 563.8 L352.7 563.3 L349.9 562.9 L347.1 562.4 L344.3 561.9 L341.6 561.4 L338.8 560.9 L336.0 560.4 L333.2 559.9 L330.5 559.4 L327.7 558.8 L324.9 558.3 L322.2 557.7 L319.4 557.2 L316.6 556.6 L313.9 556.0 L311.1 555.4 L308.4 554.8 L305.6 554.2 L302.9 553.6 L300.1 553.0 L297.4 552.3 L294.6 551.7 L291.9 551.0 L289.2 550.4 L286.4 549.7 L283.7 549.0 L281.0 548.3 L278.2 547.6 L275.5 546.9 L272.8 546.1 L270.1 545.4 L267.4 544.6 L264.6 543.9 L261.9 543.1 L259.2 542.3 L256.5 541.6 L253.8 540.8 L251.1 539.9 L248.4 539.1 L245.7 538.3 L243.0 537.4 L240.3 536.6 L237.7 535.7 L235.0 534.9 L232.3 534.0 L229.6 533.1 L226.9 532.2 L224.3 531.3 L221.6 530.3 L218.9 529.4 L216.3 528.4 L213.6 527.5 L211.0 526.5 L208.3 525.5 L205.7 524.5 L203.1 523.5 L200.4 522.5 L197.8 521.4 L195.2 520.4 L192.6 519.3 L190.0 518.2 L187.4 517.1 L184.8 516.0 L182.2 514.9 L179.6 513.7 L177.1 512.5 L174.5 511.4 L171.9 510.2 L169.4 508.9 L166.9 507.7 L164.4 506.4 L161.8 505.1 L159.3 503.8 L156.9 502.5 L154.4 501.2 L151.9 499.8 L149.4 498.4 L147.0 497.0 L144.6 495.6 L142.2 494.1 L139.7 492.7 L137.3 491.2 L135.0 489.7 L132.6 488.1 L130.2 486.5 L127.9 484.9 L125.6 483.3 L123.3 481.7 L121.0 480.0 L118.7 478.3 L116.4 476.6 L114.2 474.8 L111.9 473.0 L109.7 471.2 L107.5 469.4 L105.3 467.5 L103.2 465.6 L101.0 463.7 L98.9 461.8 L96.8 459.8 L94.7 457.8 L92.7 455.7 L90.6 453.6 L88.7 451.5 L86.7 449.4 L84.8 447.2 L82.9 445.0 L81.1 442.8 L79.4 440.5 L77.7 438.2 L76.0 435.8 L74.4 433.5 L72.9 431.1 L71.5 428.6 L70.1 426.1 L68.8 423.6 L67.6 421.1 L66.4 418.5 L65.4 415.9 L64.5 413.2 L63.7 410.6 L63.1 407.9 L62.5 405.2 L62.1 402.5 L61.9 399.8 L61.7 397.0" stroke="#17389c" stroke-width="5" opacity="0.9"/>
<path d="M615.4 570.5 L612.6 570.7 L609.8 571.0 L607.0 571.3 L604.1 571.5 L601.3 571.8 L598.5 572.0 L595.7 572.3 L592.8 572.5 L590.0 572.7 L587.2 572.9 L584.3 573.1 L581.5 573.3 L578.7 573.5 L575.8 573.6 L573.0 573.8 L570.2 574.0 L567.3 574.1 L564.5 574.3 L561.7 574.4 L558.8 574.5 L556.0 574.6 L553.2 574.7 L550.3 574.8 L547.5 574.9 L544.6 575.0 L541.8 575.1 L539.0 575.2 L536.1 575.3 L533.3 575.3 L530.5 575.4 L527.6 575.4 L524.8 575.5 L521.9 575.5 L519.1 575.5 L516.3 575.5 L513.4 575.5 L510.6 575.5 L507.7 575.5 L504.9 575.5 L502.1 575.5 L499.2 575.5 L496.4 575.5 L493.5 575.4 L490.7 575.4 L487.9 575.3 L485.0 575.3 L482.2 575.2 L479.4 575.1 L476.5 575.0 L473.7 574.9 L470.9 574.8 L468.0 574.7 L465.2 574.6 L462.4 574.5 L459.5 574.4 L456.7 574.2 L453.9 574.1 L451.0 573.9 L448.2 573.8 L445.4 573.6 L442.5 573.4 L439.7 573.2 L436.9 573.0 L434.1 572.8 L431.2 572.6 L428.4 572.4 L425.6 572.2 L422.8 571.9 L420.0 571.7 L417.1 571.4 L414.3 571.2 L411.5 570.9 L408.7 570.6 L405.9 570.4 L403.1 570.1 L400.3 569.8 L397.4 569.5 L394.6 569.1 L391.8 568.8 L389.0 568.5 L386.2 568.1 L383.4 567.8 L380.6 567.4 L377.8 567.0 L375.0 566.7" stroke="#0a4bb8" stroke-width="11" opacity="0.85" clip-path="url(#sc8)"/>
<path d="M612.3 565.1 L609.5 565.4 L606.7 565.6 L603.9 565.9 L601.2 566.1 L598.4 566.4 L595.6 566.6 L592.8 566.8 L590.1 567.1 L587.3 567.3 L584.5 567.5 L581.7 567.7 L578.9 567.8 L576.2 568.0 L570.8 568.3 L568.0 568.5 L565.3 568.6 L562.5 568.8 L559.7 568.9 L556.9 569.0 L554.1 569.2 L551.3 569.3 L548.5 569.4 L545.7 569.5 L543.0 569.6 L540.2 569.6 L537.4 569.7 L532.1 569.8 L529.3 569.9 L526.5 569.9 L523.7 570.0 L520.9 570.0 L518.1 570.0 L515.3 570.1 L512.5 570.1 L509.7 570.1 L506.9 570.1 L504.2 570.1 L501.4 570.1 L498.6 570.0 L493.3 570.0 L490.5 569.9 L487.7 569.9 L484.9 569.8 L482.1 569.7 L479.3 569.7 L476.5 569.6 L473.7 569.5 L471.0 569.4 L468.2 569.3 L465.4 569.2 L462.6 569.1 L459.8 568.9 L454.5 568.7 L451.7 568.5 L449.0 568.4 L446.2 568.2 L443.4 568.0 L440.6 567.9 L437.8 567.7 L435.1 567.5 L432.3 567.3 L429.5 567.1 L426.8 566.8 L424.0 566.6 L421.2 566.4 L415.9 565.9 L413.2 565.6 L410.4 565.4 L407.6 565.1 L404.9 564.8 L402.1 564.5 L399.3 564.2 L396.6 563.9 L393.8 563.6 L391.1 563.2 L388.3 562.9 L385.5 562.6 L382.8 562.2 L377.5 561.5" stroke="#083a9c" stroke-width="1.2" opacity="0.60" filter="url(#b1)" clip-path="url(#sc8)"/>
<path d="M615.4 570.5 L612.6 570.7 L609.8 571.0 L607.0 571.3 L604.1 571.5 L601.3 571.8 L598.5 572.0 L595.7 572.3 L592.8 572.5 L590.0 572.7 L587.2 572.9 L584.3 573.1 L581.5 573.3 L578.7 573.5 L575.8 573.6 L573.0 573.8 L570.2 574.0 L567.3 574.1 L564.5 574.3 L561.7 574.4 L558.8 574.5 L556.0 574.6 L553.2 574.7 L550.3 574.8 L547.5 574.9 L544.6 575.0 L541.8 575.1 L539.0 575.2 L536.1 575.3 L533.3 575.3 L530.5 575.4 L527.6 575.4 L524.8 575.5 L521.9 575.5 L519.1 575.5 L516.3 575.5 L513.4 575.5 L510.6 575.5 L507.7 575.5 L504.9 575.5 L502.1 575.5 L499.2 575.5 L496.4 575.5 L493.5 575.4 L490.7 575.4 L487.9 575.3 L485.0 575.3 L482.2 575.2 L479.4 575.1 L476.5 575.0 L473.7 574.9 L470.9 574.8 L468.0 574.7 L465.2 574.6 L462.4 574.5 L459.5 574.4 L456.7 574.2 L453.9 574.1 L451.0 573.9 L448.2 573.8 L445.4 573.6 L442.5 573.4 L439.7 573.2 L436.9 573.0 L434.1 572.8 L431.2 572.6 L428.4 572.4 L425.6 572.2 L422.8 571.9 L420.0 571.7 L417.1 571.4 L414.3 571.2 L411.5 570.9 L408.7 570.6 L405.9 570.4 L403.1 570.1 L400.3 569.8 L397.4 569.5 L394.6 569.1 L391.8 568.8 L389.0 568.5 L386.2 568.1 L383.4 567.8 L380.6 567.4 L377.8 567.0 L375.0 566.7" stroke="#082f86" stroke-width="2" opacity="0.7" clip-path="url(#sc8)"/>
<path d="M77.7 438.2 L76.0 435.8 L74.4 433.5 L72.9 431.1 L71.5 428.6 L70.1 426.1 L68.8 423.6 L67.6 421.1 L66.4 418.5 L65.4 415.9 L64.5 413.2 L63.7 410.6 L63.1 407.9 L62.5 405.2 L62.1 402.5 L61.9 399.8 L61.7 397.0 L61.7 394.3 L61.8 391.6 L62.0 388.8 L62.3 386.1 L62.7 383.4 L63.2 380.6 L63.8 377.9 L64.5 375.2 L65.3 372.5 L66.2 369.8 L67.1 367.2 L68.1 364.5 L69.2 361.9 L70.4 359.3" stroke="#2f7ae8" stroke-width="8" opacity="0.8" clip-path="url(#sc11)"/>
<path d="M82.3 436.9 L80.6 434.6 L79.1 432.2 L77.6 429.9 L76.1 427.4 L74.8 425.0 L73.5 422.5 L72.3 420.0 L71.1 417.4 L70.1 414.8 L69.2 412.2 L68.4 409.6 L67.8 407.0 L67.2 404.3 L66.6 399.1 L66.4 396.4 L66.4 393.7 L66.4 391.0 L66.6 388.3 L66.9 385.6 L67.2 382.8 L67.7 380.1 L68.3 377.4 L68.9 374.8 L69.7 372.1 L70.5 369.4 L71.4 366.8 L72.4 364.2 L74.6 359.1" stroke="#062a80" stroke-width="1.3" opacity="0.75" filter="url(#b1)" clip-path="url(#sc11)"/>
<path d="M77.7 438.2 L76.0 435.8 L74.4 433.5 L72.9 431.1 L71.5 428.6 L70.1 426.1 L68.8 423.6 L67.6 421.1 L66.4 418.5 L65.4 415.9 L64.5 413.2 L63.7 410.6 L63.1 407.9 L62.5 405.2 L62.1 402.5 L61.9 399.8 L61.7 397.0 L61.7 394.3 L61.8 391.6 L62.0 388.8 L62.3 386.1 L62.7 383.4 L63.2 380.6 L63.8 377.9 L64.5 375.2 L65.3 372.5 L66.2 369.8 L67.1 367.2 L68.1 364.5 L69.2 361.9 L70.4 359.3" stroke="#0a43b0" stroke-width="2" opacity="0.8" clip-path="url(#sc11)"/>
<path d="M870.6 293.6 L872.9 295.3 L875.1 297.0 L877.3 298.7 L879.5 300.5 L881.6 302.3 L883.8 304.1 L885.9 306.0 L888.0 307.8 L890.1 309.7 L892.1 311.7 L894.1 313.6 L896.1 315.6 L898.1 317.6 L900.1 319.6 L902.0 321.7 L903.9 323.7 L905.7 325.9 L907.6 328.0 L909.4 330.2 L911.2 332.4 L912.9 334.6 L914.7 336.8 L916.4 339.1 L918.0 341.4 L919.7 343.8 L921.3 346.2 L922.8 348.6 L924.3 351.0 L925.8 353.5 L927.2 355.9 L928.5 358.5 L929.8 361.0 L931.0 363.6 L932.1 366.2 L933.2 368.8 L934.1 371.4 L934.9 374.1 L935.7 376.8 L936.3 379.5 L936.8 382.2 L937.1 385.0 L937.4 387.8 L937.5 390.5 L937.6 393.3 L937.5 396.1 L937.3 398.8" stroke="#17389c" stroke-width="2.2" opacity="0.8"/>
</g>
<g clip-path="url(#ringclip)">
<polygon points="370.0,565.7 394.1,516.6 398.6,517.6 374.5,566.7" fill="#fff06a" opacity="0.9"/>
<path d="M612.4 570.5 L582.3 519.2" stroke="#cfe0ff" stroke-width="1.6" opacity="0.85"/>
<path d="M616.4 570.5 L586.3 519.2" stroke="#8a0814" stroke-width="2" opacity="0.6"/>
<path d="M817.3 520.6 L752.8 482.0" stroke="#5a2a10" stroke-width="2.4" opacity="0.7"/>
<path d="M920.6 443.3 L845.4 422.4" stroke="#14307e" stroke-width="2" opacity="0.8"/>
<path d="M929.8 361.0 L861.6 355.4" stroke="#0a2e8e" stroke-width="1.8" opacity="0.85"/>
<path d="M559.3 203.6 L551.8 218.4" stroke="#f6c4cc" stroke-width="1.8" opacity="0.9"/>
<path d="M679.8 217.4 L659.2 231.0" stroke="#e8ecf8" stroke-width="2.2" opacity="0.9"/>
<polygon points="851.6,314 880.5,314 895,335.2 866,335.2" fill="#f4f6fb"/>
<path d="M853.3 314.8 L867.8 334.4" stroke="#d8323c" stroke-width="1.3" fill="none"/>
<path d="M862 320 H876 M865 324.5 H881 M868 329 H880" stroke="#c9cfdf" stroke-width="0.8" fill="none"/>
</g>
<g stroke="#0d0d0d" stroke-width="3" fill="none" stroke-dasharray="5.25 3.75">
<path d="M460.3 93 H62.6"/>
<path d="M64.1 373.8 V95"/>
<path d="M550.7 92.6 H934.6"/>
<path d="M937.4 380.3 V95.5"/>
<path d="M451.2 160.2 H131.5"/>
<path d="M133 366.3 V162"/>
<path d="M857.8 159.2 H550"/>
<path d="M861.2 373.8 V162"/>
<path d="M889 246 H866.3"/>
<path d="M936 246 H912.8"/>
</g>
<g font-family="Liberation Sans, sans-serif" font-size="29" fill="#0d0d0d" text-anchor="middle" stroke="#0d0d0d" stroke-width="0.4">
<text transform="translate(500.3 94) scale(0.92 1)">A</text>
<text transform="translate(500.8 160)">B</text>
<text transform="translate(902.3 258.1) scale(0.88 1.06)">C</text>
</g>
</svg>
<table class="chart">
<colgroup><col><col><col><col><col><col><col></colgroup>
<tr class="lt"><th></th><th><span id="t1" style="left:-4.1px;top:1.5px">A</span></th><th></th><th><span id="t3" style="left:-0.9px;top:1.5px">B</span></th><th><span id="t4" style="left:2.9px;top:1.5px">C</span></th><th></th><th></th></tr>
<tr class="hd"><th><span id="h0" style="left:-4.5px;top:3.7px">SIZE</span></th><th><span id="h1" style="left:-1.7px;top:3.4px">Fit Outer<br>Frame<br>Diameter</span></th><th><span id="h2" style="left:-2.3px;top:0.6px">Fit Spring<br><em class="s">Length</em></span></th><th><span id="h3" style="left:0px;top:3px"><em class="w">Fit Jumping</em><br>Mat<br>Diameter</span></th><th><span id="h4" style="left:4px;top:3.8px">Pad Width</span></th><th><span id="h5" style="left:-3.6px;top:3.5px">Side Skirt<br>Width</span></th><th><span id="h6" style="left:0px;top:3.6px">Padded<br>Foam<br>Thickness</span></th></tr>
<tr class="r r0"><td><span id="d0_0" style="left:-1px;top:3.2px">12 FT</span></td><td><span id="d0_1" style="left:-3.3px;top:3.2px">12'</span></td><td><span id="d0_2" style="left:-2.3px;top:3.2px">7&quot;</span></td><td><span id="d0_3" style="left:0.6px;top:3.2px">10.2'</span></td><td><span id="d0_4" style="left:4.1px;top:3.2px">10.6&quot;</span></td><td rowspan="4"><span id="d0_5" style="left:-3.2px;top:1.7px">3.93&quot;</span></td><td rowspan="4"><span id="d0_6" style="left:-0.6px;top:1.7px">0.6&quot;</span></td></tr>
<tr class="r r1"><td><span id="d1_0" style="left:-1px;top:3.1px">13 FT</span></td><td><span id="d1_1" style="left:-3.3px;top:3.1px">13'</span></td><td><span id="d1_2" style="left:-2.3px;top:3.1px">7&quot;</span></td><td><span id="d1_3" style="left:0.6px;top:3.1px">11.3'</span></td><td><span id="d1_4" style="left:4.1px;top:3.1px">10.6&quot;</span></td></tr>
<tr class="r r2"><td><span id="d2_0" style="left:-1px;top:2.2px">14 FT</span></td><td><span id="d2_1" style="left:-3.3px;top:2.2px">14'</span></td><td><span id="d2_2" style="left:-2.3px;top:2.2px">7&quot;</span></td><td><span id="d2_3" style="left:0.6px;top:2.2px">12'</span></td><td><span id="d2_4" style="left:4.1px;top:2.2px">12.2&quot;</span></td></tr>
<tr class="r r3"><td><span id="d3_0" style="left:-1px;top:2.2px">15 FT</span></td><td><span id="d3_1" style="left:-3.3px;top:2.2px">15'</span></td><td><span id="d3_2" style="left:-2.3px;top:2.2px">8&quot;</span></td><td><span id="d3_3" style="left:0.6px;top:2.2px">13'</span></td><td><span id="d3_4" style="left:4.1px;top:2.2px">12.2&quot;</span></td></tr>
</table>
</body>
</html>
